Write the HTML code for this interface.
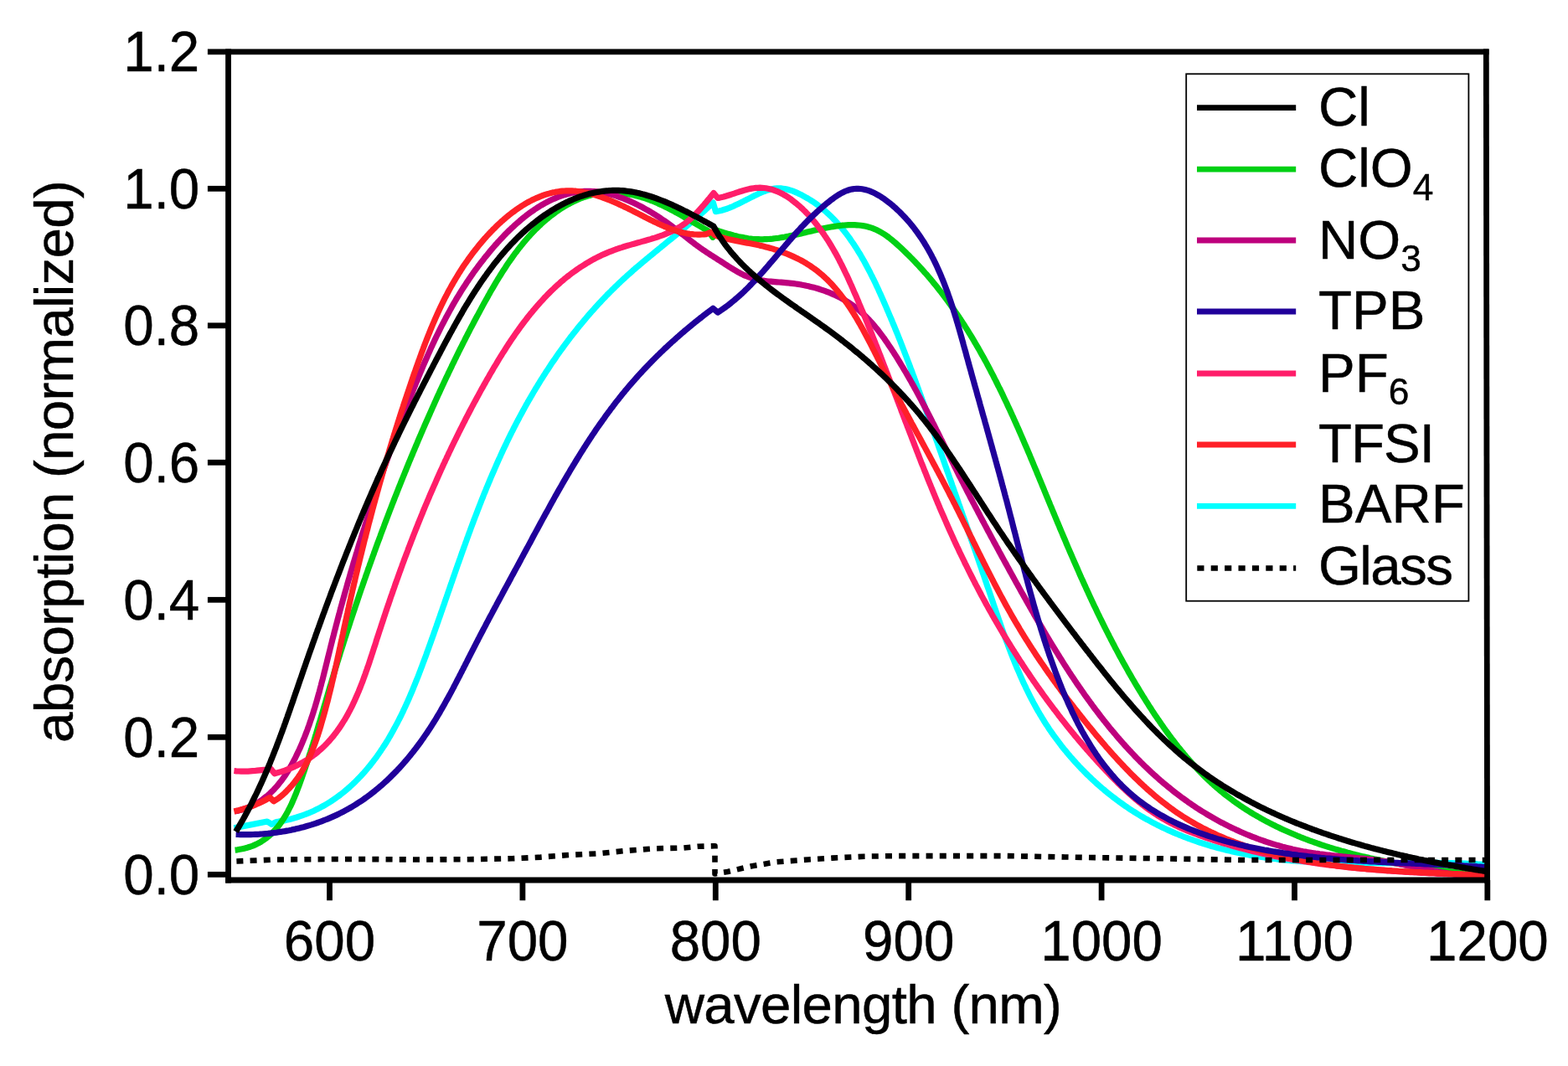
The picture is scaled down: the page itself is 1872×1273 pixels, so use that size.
<!DOCTYPE html>
<html><head><meta charset="utf-8"><title>absorption spectra</title>
<style>html,body{margin:0;padding:0;background:#fff;}body{width:1872px;height:1273px;overflow:hidden;}svg{display:block;}</style>
</head><body>
<svg width="1872" height="1273" viewBox="0 0 1872 1273">
<rect x="0" y="0" width="1872" height="1273" fill="#ffffff"/>
<g fill="none" stroke-linejoin="round" stroke-linecap="butt" stroke-width="7.2">
<path d="M279.4,988.7 L297.0,985.4 L319.0,981.0 L324.5,984.3 L330.0,981.5 L332.7,981.1 L335.4,980.6 L338.0,980.1 L340.6,979.6 L343.2,979.0 L345.8,978.4 L348.4,977.7 L350.9,977.0 L353.4,976.3 L355.9,975.5 L358.3,974.7 L360.7,973.9 L363.1,973.0 L365.5,972.1 L367.9,971.2 L370.2,970.2 L372.5,969.2 L374.8,968.2 L377.1,967.1 L379.3,966.0 L381.5,964.9 L383.7,963.7 L385.9,962.5 L388.0,961.3 L390.2,960.0 L392.3,958.7 L394.3,957.4 L396.4,956.1 L398.4,954.7 L400.5,953.3 L402.4,951.9 L404.4,950.5 L406.4,949.0 L408.3,947.5 L410.2,946.0 L412.1,944.4 L414.0,942.9 L415.8,941.3 L417.6,939.7 L419.4,938.0 L421.2,936.4 L423.0,934.7 L424.7,933.0 L426.4,931.3 L428.1,929.5 L429.8,927.8 L431.5,926.0 L433.1,924.2 L434.8,922.4 L436.4,920.5 L437.9,918.7 L439.5,916.8 L441.1,914.9 L442.6,913.0 L444.1,911.1 L445.6,909.2 L447.1,907.2 L448.5,905.3 L450.0,903.3 L451.4,901.3 L452.8,899.3 L454.2,897.3 L455.5,895.2 L456.9,893.2 L458.2,891.1 L459.6,889.1 L460.9,887.0 L462.2,884.9 L463.5,882.8 L464.7,880.6 L466.0,878.5 L467.2,876.3 L468.4,874.2 L469.6,872.0 L470.8,869.8 L472.0,867.6 L473.2,865.4 L474.4,863.2 L475.5,861.0 L476.6,858.8 L477.8,856.5 L478.9,854.3 L480.0,852.0 L481.1,849.8 L482.1,847.5 L483.2,845.2 L484.3,842.9 L485.3,840.6 L486.4,838.3 L487.4,836.0 L488.4,833.7 L489.4,831.4 L490.4,829.0 L491.4,826.7 L492.4,824.3 L493.4,822.0 L494.3,819.6 L495.3,817.3 L496.2,814.9 L497.2,812.5 L498.1,810.2 L499.1,807.8 L500.0,805.4 L500.9,803.0 L501.8,800.7 L502.7,798.3 L503.6,795.9 L504.5,793.5 L505.4,791.1 L506.3,788.7 L507.2,786.3 L508.1,783.9 L509.0,781.5 L509.8,779.1 L510.7,776.7 L511.6,774.3 L512.4,771.9 L513.3,769.5 L514.2,767.1 L515.0,764.7 L515.9,762.3 L516.7,759.9 L517.6,757.5 L518.4,755.1 L519.3,752.7 L520.1,750.3 L521.0,747.9 L521.8,745.5 L522.7,743.1 L523.5,740.7 L524.3,738.3 L525.2,735.9 L526.0,733.5 L526.8,731.1 L527.7,728.7 L528.5,726.3 L529.3,723.9 L530.2,721.5 L531.0,719.1 L531.8,716.7 L532.7,714.3 L533.5,711.9 L534.3,709.6 L535.1,707.2 L536.0,704.8 L536.8,702.4 L537.6,700.0 L538.4,697.6 L539.3,695.2 L540.1,692.9 L540.9,690.5 L541.8,688.1 L542.6,685.7 L543.4,683.3 L544.2,681.0 L545.1,678.6 L545.9,676.2 L546.7,673.8 L547.6,671.5 L548.4,669.1 L549.3,666.7 L550.1,664.3 L550.9,662.0 L551.8,659.6 L552.6,657.2 L553.5,654.9 L554.3,652.5 L555.2,650.2 L556.0,647.8 L556.9,645.4 L557.7,643.1 L558.6,640.7 L559.4,638.4 L560.3,636.0 L561.2,633.7 L562.0,631.3 L562.9,629.0 L563.8,626.6 L564.7,624.3 L565.5,621.9 L566.4,619.6 L567.3,617.3 L568.2,614.9 L569.1,612.6 L570.0,610.2 L570.9,607.9 L571.8,605.6 L572.7,603.3 L573.6,600.9 L574.5,598.6 L575.4,596.3 L576.4,594.0 L577.3,591.6 L578.2,589.3 L579.2,587.0 L580.1,584.7 L581.0,582.4 L582.0,580.1 L583.0,577.8 L583.9,575.5 L584.9,573.2 L585.8,570.9 L586.8,568.6 L587.8,566.3 L588.8,564.0 L589.8,561.7 L590.8,559.4 L591.8,557.1 L592.8,554.8 L593.8,552.5 L594.8,550.3 L595.8,548.0 L596.9,545.7 L597.9,543.4 L598.9,541.2 L600.0,538.9 L601.0,536.6 L602.1,534.4 L603.2,532.1 L604.3,529.9 L605.3,527.6 L606.4,525.4 L607.5,523.1 L608.6,520.9 L609.7,518.6 L610.8,516.4 L612.0,514.2 L613.1,511.9 L614.2,509.7 L615.4,507.5 L616.5,505.2 L617.7,503.0 L618.9,500.8 L620.0,498.6 L621.2,496.4 L622.4,494.2 L623.6,492.0 L624.8,489.8 L626.0,487.6 L627.2,485.4 L628.4,483.2 L629.7,481.0 L630.9,478.8 L632.2,476.7 L633.4,474.5 L634.7,472.3 L635.9,470.2 L637.2,468.0 L638.5,465.9 L639.8,463.7 L641.1,461.6 L642.4,459.4 L643.7,457.3 L645.0,455.2 L646.3,453.0 L647.7,450.9 L649.0,448.8 L650.4,446.7 L651.7,444.6 L653.1,442.5 L654.5,440.4 L655.9,438.3 L657.2,436.2 L658.6,434.1 L660.0,432.0 L661.5,430.0 L662.9,427.9 L664.3,425.8 L665.7,423.8 L667.2,421.7 L668.6,419.7 L670.1,417.7 L671.6,415.6 L673.0,413.6 L674.5,411.6 L676.0,409.6 L677.5,407.6 L679.0,405.6 L680.5,403.6 L682.1,401.6 L683.6,399.6 L685.1,397.7 L686.7,395.7 L688.3,393.7 L689.8,391.8 L691.4,389.8 L693.0,387.9 L694.6,386.0 L696.2,384.0 L697.8,382.1 L699.4,380.2 L701.0,378.3 L702.6,376.4 L704.3,374.5 L705.9,372.6 L707.6,370.8 L709.3,368.9 L710.9,367.0 L712.6,365.2 L714.3,363.3 L716.0,361.5 L717.7,359.7 L719.4,357.8 L721.2,356.0 L722.9,354.2 L724.6,352.4 L726.4,350.6 L728.2,348.9 L729.9,347.1 L731.7,345.3 L733.5,343.6 L735.3,341.8 L737.1,340.1 L738.9,338.3 L740.7,336.6 L742.6,334.9 L744.4,333.2 L746.3,331.5 L748.1,329.8 L750.0,328.1 L751.9,326.5 L753.8,324.8 L755.6,323.1 L757.5,321.5 L759.4,319.8 L761.3,318.2 L763.3,316.6 L765.2,314.9 L767.1,313.3 L769.0,311.7 L771.0,310.1 L772.9,308.5 L774.8,306.9 L776.8,305.3 L778.7,303.7 L780.7,302.1 L782.6,300.5 L784.6,298.9 L786.5,297.3 L788.5,295.7 L790.4,294.1 L792.4,292.5 L794.3,290.9 L796.3,289.3 L798.2,287.7 L800.2,286.2 L802.2,284.6 L804.1,283.0 L806.1,281.4 L808.0,279.8 L809.9,278.2 L811.9,276.6 L813.8,275.0 L815.8,273.4 L817.7,271.8 L819.6,270.2 L821.5,268.6 L823.5,267.0 L825.4,265.3 L827.3,263.7 L829.2,262.1 L831.1,260.4 L833.0,258.8 L834.8,257.2 L836.7,255.5 L838.6,253.8 L840.4,252.2 L842.3,250.5 L844.1,248.8 L846.0,247.1 L847.8,245.4 L849.6,243.7 L851.4,242.0 L854.5,252.7 L856.9,252.3 L859.3,251.8 L861.6,251.2 L864.0,250.5 L866.3,249.8 L868.7,249.0 L871.0,248.1 L873.3,247.2 L875.6,246.2 L877.9,245.1 L880.2,244.0 L882.5,242.9 L884.8,241.8 L887.1,240.6 L889.4,239.4 L891.7,238.3 L894.1,237.1 L896.4,235.9 L898.7,234.7 L901.1,233.5 L903.5,232.4 L905.8,231.3 L908.2,230.2 L910.6,229.2 L913.0,228.3 L915.4,227.4 L917.8,226.7 L920.2,226.0 L922.6,225.5 L925.1,225.1 L927.5,224.9 L929.9,224.8 L932.3,224.9 L934.7,225.2 L937.1,225.5 L939.5,226.0 L941.9,226.7 L944.2,227.4 L946.6,228.2 L948.9,229.1 L951.2,230.1 L953.5,231.2 L955.7,232.2 L957.9,233.4 L960.1,234.6 L962.3,235.8 L964.4,237.0 L966.5,238.3 L968.6,239.6 L970.7,240.9 L972.7,242.3 L974.7,243.7 L976.6,245.2 L978.6,246.6 L980.5,248.2 L982.4,249.7 L984.3,251.3 L986.1,252.9 L987.9,254.5 L989.7,256.1 L991.5,257.8 L993.2,259.5 L994.9,261.2 L996.6,263.0 L998.3,264.8 L999.9,266.6 L1001.6,268.4 L1003.2,270.3 L1004.8,272.2 L1006.3,274.1 L1007.9,276.0 L1009.4,277.9 L1010.9,279.9 L1012.4,281.9 L1013.9,283.9 L1015.3,285.9 L1016.7,288.0 L1018.1,290.0 L1019.5,292.1 L1020.9,294.2 L1022.3,296.3 L1023.6,298.4 L1024.9,300.6 L1026.3,302.8 L1027.6,304.9 L1028.8,307.1 L1030.1,309.3 L1031.4,311.5 L1032.6,313.7 L1033.8,316.0 L1035.0,318.2 L1036.2,320.5 L1037.4,322.7 L1038.6,325.0 L1039.7,327.3 L1040.9,329.6 L1042.0,331.9 L1043.2,334.2 L1044.3,336.5 L1045.4,338.8 L1046.5,341.2 L1047.6,343.5 L1048.7,345.8 L1049.7,348.2 L1050.8,350.5 L1051.8,352.8 L1052.9,355.2 L1053.9,357.5 L1055.0,359.9 L1056.0,362.2 L1057.0,364.6 L1058.0,366.9 L1059.0,369.2 L1060.0,371.6 L1061.0,373.9 L1062.0,376.3 L1063.0,378.6 L1064.0,381.0 L1065.0,383.3 L1065.9,385.6 L1066.9,388.0 L1067.9,390.3 L1068.8,392.6 L1069.8,395.0 L1070.7,397.3 L1071.7,399.6 L1072.6,402.0 L1073.5,404.3 L1074.5,406.6 L1075.4,409.0 L1076.3,411.3 L1077.2,413.6 L1078.1,416.0 L1079.0,418.3 L1079.9,420.6 L1080.8,423.0 L1081.7,425.3 L1082.6,427.6 L1083.5,430.0 L1084.4,432.3 L1085.3,434.6 L1086.2,437.0 L1087.0,439.3 L1087.9,441.6 L1088.8,443.9 L1089.6,446.3 L1090.5,448.6 L1091.4,450.9 L1092.2,453.3 L1093.1,455.6 L1093.9,457.9 L1094.8,460.3 L1095.6,462.6 L1096.5,464.9 L1097.3,467.3 L1098.2,469.6 L1099.0,471.9 L1099.9,474.2 L1100.7,476.6 L1101.5,478.9 L1102.4,481.2 L1103.2,483.6 L1104.0,485.9 L1104.9,488.2 L1105.7,490.6 L1106.5,492.9 L1107.3,495.3 L1108.2,497.6 L1109.0,499.9 L1109.8,502.3 L1110.6,504.6 L1111.5,506.9 L1112.3,509.3 L1113.1,511.6 L1113.9,514.0 L1114.7,516.3 L1115.6,518.6 L1116.4,521.0 L1117.2,523.3 L1118.0,525.7 L1118.9,528.0 L1119.7,530.4 L1120.5,532.7 L1121.3,535.1 L1122.1,537.4 L1123.0,539.8 L1123.8,542.1 L1124.6,544.5 L1125.4,546.8 L1126.3,549.2 L1127.1,551.5 L1127.9,553.9 L1128.7,556.3 L1129.6,558.6 L1130.4,561.0 L1131.2,563.3 L1132.1,565.7 L1132.9,568.1 L1133.7,570.4 L1134.6,572.8 L1135.4,575.2 L1136.2,577.5 L1137.0,579.9 L1137.9,582.3 L1138.7,584.6 L1139.5,587.0 L1140.4,589.4 L1141.2,591.7 L1142.0,594.1 L1142.9,596.5 L1143.7,598.8 L1144.5,601.2 L1145.4,603.6 L1146.2,606.0 L1147.0,608.3 L1147.9,610.7 L1148.7,613.1 L1149.5,615.5 L1150.4,617.8 L1151.2,620.2 L1152.0,622.6 L1152.9,625.0 L1153.7,627.3 L1154.5,629.7 L1155.4,632.1 L1156.2,634.5 L1157.0,636.9 L1157.9,639.2 L1158.7,641.6 L1159.5,644.0 L1160.3,646.4 L1161.2,648.8 L1162.0,651.1 L1162.8,653.5 L1163.7,655.9 L1164.5,658.3 L1165.3,660.7 L1166.1,663.0 L1167.0,665.4 L1167.8,667.8 L1168.6,670.2 L1169.4,672.6 L1170.3,675.0 L1171.1,677.3 L1171.9,679.7 L1172.7,682.1 L1173.5,684.5 L1174.4,686.9 L1175.2,689.3 L1176.0,691.6 L1176.8,694.0 L1177.6,696.4 L1178.4,698.8 L1179.2,701.2 L1180.1,703.6 L1180.9,705.9 L1181.7,708.3 L1182.5,710.7 L1183.3,713.1 L1184.1,715.5 L1184.9,717.8 L1185.7,720.2 L1186.5,722.6 L1187.3,725.0 L1188.1,727.4 L1189.0,729.7 L1189.8,732.1 L1190.6,734.5 L1191.4,736.8 L1192.2,739.2 L1193.0,741.6 L1193.9,743.9 L1194.7,746.3 L1195.5,748.7 L1196.3,751.0 L1197.2,753.4 L1198.0,755.7 L1198.9,758.1 L1199.7,760.4 L1200.6,762.8 L1201.4,765.1 L1202.3,767.5 L1203.2,769.8 L1204.0,772.1 L1204.9,774.5 L1205.8,776.8 L1206.7,779.1 L1207.6,781.5 L1208.5,783.8 L1209.4,786.1 L1210.4,788.4 L1211.3,790.7 L1212.2,793.0 L1213.2,795.3 L1214.1,797.6 L1215.1,799.9 L1216.1,802.1 L1217.1,804.4 L1218.1,806.7 L1219.1,809.0 L1220.1,811.2 L1221.1,813.5 L1222.1,815.7 L1223.2,818.0 L1224.3,820.2 L1225.3,822.5 L1226.4,824.7 L1227.5,826.9 L1228.6,829.1 L1229.7,831.3 L1230.8,833.5 L1232.0,835.7 L1233.1,837.9 L1234.3,840.1 L1235.5,842.3 L1236.7,844.5 L1237.9,846.6 L1239.1,848.8 L1240.4,850.9 L1241.6,853.1 L1242.9,855.2 L1244.2,857.3 L1245.5,859.4 L1246.8,861.6 L1248.1,863.7 L1249.5,865.8 L1250.9,867.8 L1252.2,869.9 L1253.6,872.0 L1255.1,874.1 L1256.5,876.1 L1257.9,878.2 L1259.4,880.2 L1260.9,882.2 L1262.4,884.2 L1263.9,886.2 L1265.4,888.2 L1266.9,890.2 L1268.5,892.2 L1270.1,894.2 L1271.7,896.1 L1273.3,898.1 L1274.9,900.0 L1276.5,901.9 L1278.1,903.8 L1279.8,905.7 L1281.5,907.6 L1283.2,909.5 L1284.9,911.4 L1286.6,913.2 L1288.3,915.1 L1290.0,916.9 L1291.8,918.7 L1293.6,920.5 L1295.3,922.3 L1297.1,924.1 L1298.9,925.9 L1300.8,927.6 L1302.6,929.4 L1304.4,931.1 L1306.3,932.8 L1308.1,934.5 L1310.0,936.2 L1311.9,937.9 L1313.8,939.6 L1315.7,941.2 L1317.7,942.8 L1319.6,944.5 L1321.5,946.1 L1323.5,947.6 L1325.5,949.2 L1327.5,950.8 L1329.4,952.3 L1331.5,953.8 L1333.5,955.4 L1335.5,956.8 L1337.5,958.3 L1339.6,959.8 L1341.6,961.2 L1343.7,962.7 L1345.8,964.1 L1347.8,965.5 L1349.9,966.9 L1352.0,968.2 L1354.2,969.6 L1356.3,970.9 L1358.4,972.2 L1360.5,973.5 L1362.7,974.8 L1364.8,976.0 L1367.0,977.3 L1369.2,978.5 L1371.4,979.7 L1373.6,980.9 L1375.8,982.1 L1378.0,983.2 L1380.2,984.4 L1382.4,985.5 L1384.6,986.6 L1386.9,987.7 L1389.1,988.8 L1391.4,989.8 L1393.6,990.9 L1395.9,991.9 L1398.2,992.9 L1400.4,993.9 L1402.7,994.9 L1405.0,995.8 L1407.3,996.8 L1409.6,997.7 L1412.0,998.7 L1414.3,999.6 L1416.6,1000.4 L1418.9,1001.3 L1421.3,1002.2 L1423.6,1003.0 L1426.0,1003.9 L1428.3,1004.7 L1430.7,1005.5 L1433.0,1006.3 L1435.4,1007.0 L1437.8,1007.8 L1440.2,1008.5 L1442.6,1009.2 L1444.9,1010.0 L1447.3,1010.7 L1449.7,1011.3 L1452.1,1012.0 L1454.6,1012.7 L1457.0,1013.3 L1459.4,1013.9 L1461.8,1014.6 L1464.2,1015.2 L1466.7,1015.8 L1469.1,1016.3 L1471.5,1016.9 L1474.0,1017.4 L1476.4,1018.0 L1478.9,1018.5 L1481.3,1019.0 L1483.8,1019.5 L1486.2,1020.0 L1488.7,1020.5 L1491.1,1020.9 L1493.6,1021.4 L1496.1,1021.8 L1498.5,1022.2 L1501.0,1022.6 L1503.5,1023.0 L1505.9,1023.4 L1508.4,1023.8 L1510.9,1024.1 L1513.4,1024.5 L1515.9,1024.8 L1518.3,1025.1 L1520.8,1025.5 L1523.3,1025.8 L1525.8,1026.1 L1528.3,1026.3 L1530.8,1026.6 L1533.3,1026.9 L1535.7,1027.1 L1538.2,1027.3 L1540.7,1027.6 L1543.2,1027.8 L1545.7,1028.0 L1548.2,1028.2 L1550.7,1028.4 L1553.2,1028.6 L1555.7,1028.7 L1558.2,1028.9 L1560.7,1029.0 L1563.2,1029.2 L1565.7,1029.3 L1568.2,1029.5 L1570.7,1029.6 L1573.2,1029.7 L1575.7,1029.8 L1578.2,1029.9 L1580.8,1030.0 L1583.3,1030.1 L1585.8,1030.2 L1588.3,1030.2 L1590.8,1030.3 L1593.3,1030.4 L1595.8,1030.4 L1598.3,1030.5 L1600.8,1030.5 L1603.4,1030.6 L1605.9,1030.6 L1608.4,1030.6 L1610.9,1030.7 L1613.4,1030.7 L1615.9,1030.7 L1618.4,1030.7 L1621.0,1030.7 L1623.5,1030.7 L1626.0,1030.7 L1628.5,1030.7 L1631.0,1030.7 L1633.5,1030.7 L1636.1,1030.7 L1638.6,1030.7 L1641.1,1030.7 L1643.6,1030.7 L1646.1,1030.7 L1648.7,1030.7 L1651.2,1030.7 L1653.7,1030.6 L1656.2,1030.6 L1658.7,1030.6 L1661.2,1030.6 L1663.8,1030.6 L1666.3,1030.5 L1668.8,1030.5 L1671.3,1030.5 L1673.8,1030.5 L1676.3,1030.5 L1678.9,1030.4 L1681.4,1030.4 L1683.9,1030.4 L1686.4,1030.4 L1688.9,1030.4 L1691.4,1030.4 L1694.0,1030.4 L1696.5,1030.4 L1699.0,1030.4 L1701.5,1030.4 L1704.0,1030.4 L1706.5,1030.4 L1709.0,1030.4 L1711.5,1030.4 L1714.0,1030.4 L1716.6,1030.4 L1719.1,1030.5 L1721.6,1030.5 L1724.1,1030.5 L1726.6,1030.6 L1729.1,1030.6 L1731.6,1030.7 L1734.1,1030.7 L1736.6,1030.8 L1739.1,1030.9 L1741.6,1030.9 L1744.1,1031.0 L1746.6,1031.1 L1749.1,1031.2 L1751.6,1031.3 L1754.1,1031.4 L1756.6,1031.5 L1759.1,1031.6 L1761.6,1031.7 L1764.0,1031.9 L1766.5,1032.0 L1769.0,1032.2 L1771.5,1032.3 L1774.0,1032.5" stroke="#00FFFF"/>
<path d="M280.6,1015.1 L283.5,1014.8 L286.3,1014.3 L289.0,1013.8 L291.6,1013.2 L294.2,1012.6 L296.7,1011.8 L299.2,1011.0 L301.6,1010.1 L303.9,1009.1 L306.1,1008.1 L308.3,1007.0 L310.5,1005.8 L312.5,1004.6 L314.5,1003.3 L316.5,1001.9 L318.4,1000.5 L320.3,999.0 L322.1,997.5 L323.8,995.9 L325.5,994.2 L327.1,992.5 L328.7,990.8 L330.3,989.0 L331.8,987.2 L333.3,985.3 L334.7,983.4 L336.1,981.4 L337.4,979.4 L338.8,977.4 L340.0,975.3 L341.3,973.2 L342.5,971.1 L343.7,968.9 L344.8,966.7 L345.9,964.5 L347.0,962.3 L348.1,960.0 L349.1,957.7 L350.1,955.4 L351.1,953.1 L352.1,950.7 L353.1,948.4 L354.0,946.0 L354.9,943.7 L355.8,941.3 L356.7,938.9 L357.6,936.5 L358.5,934.1 L359.3,931.7 L360.2,929.3 L361.0,926.9 L361.8,924.5 L362.7,922.1 L363.5,919.7 L364.3,917.3 L365.1,914.9 L365.9,912.5 L366.7,910.1 L367.5,907.7 L368.3,905.3 L369.0,902.9 L369.8,900.5 L370.6,898.1 L371.3,895.7 L372.1,893.3 L372.8,891.0 L373.6,888.6 L374.3,886.2 L375.1,883.8 L375.8,881.4 L376.5,879.0 L377.3,876.6 L378.0,874.2 L378.7,871.8 L379.4,869.4 L380.1,867.0 L380.8,864.6 L381.6,862.3 L382.3,859.9 L383.0,857.5 L383.7,855.1 L384.4,852.7 L385.1,850.3 L385.8,847.9 L386.5,845.5 L387.2,843.1 L387.9,840.8 L388.6,838.4 L389.3,836.0 L390.0,833.6 L390.7,831.2 L391.4,828.8 L392.1,826.4 L392.8,824.0 L393.5,821.6 L394.2,819.2 L395.0,816.9 L395.7,814.5 L396.4,812.1 L397.1,809.7 L397.8,807.3 L398.5,804.9 L399.3,802.5 L400.0,800.1 L400.7,797.7 L401.5,795.3 L402.2,793.0 L402.9,790.6 L403.7,788.2 L404.4,785.8 L405.2,783.4 L405.9,781.0 L406.6,778.6 L407.4,776.2 L408.2,773.8 L408.9,771.5 L409.7,769.1 L410.4,766.7 L411.2,764.3 L411.9,761.9 L412.7,759.5 L413.5,757.1 L414.3,754.7 L415.0,752.3 L415.8,750.0 L416.6,747.6 L417.4,745.2 L418.1,742.8 L418.9,740.4 L419.7,738.0 L420.5,735.6 L421.3,733.3 L422.1,730.9 L422.9,728.5 L423.7,726.1 L424.5,723.7 L425.3,721.3 L426.1,719.0 L426.9,716.6 L427.7,714.2 L428.5,711.8 L429.3,709.4 L430.1,707.1 L430.9,704.7 L431.7,702.3 L432.6,699.9 L433.4,697.5 L434.2,695.2 L435.0,692.8 L435.9,690.4 L436.7,688.0 L437.5,685.7 L438.4,683.3 L439.2,680.9 L440.0,678.5 L440.9,676.2 L441.7,673.8 L442.6,671.4 L443.4,669.1 L444.3,666.7 L445.1,664.3 L446.0,662.0 L446.8,659.6 L447.7,657.2 L448.5,654.9 L449.4,652.5 L450.3,650.1 L451.1,647.8 L452.0,645.4 L452.9,643.1 L453.8,640.7 L454.6,638.3 L455.5,636.0 L456.4,633.6 L457.3,631.3 L458.2,628.9 L459.0,626.6 L459.9,624.2 L460.8,621.9 L461.7,619.5 L462.6,617.2 L463.5,614.8 L464.4,612.5 L465.3,610.1 L466.2,607.8 L467.1,605.5 L468.0,603.1 L468.9,600.8 L469.8,598.4 L470.7,596.1 L471.6,593.8 L472.6,591.4 L473.5,589.1 L474.4,586.8 L475.3,584.4 L476.2,582.1 L477.2,579.8 L478.1,577.4 L479.0,575.1 L480.0,572.8 L480.9,570.5 L481.8,568.2 L482.8,565.8 L483.7,563.5 L484.7,561.2 L485.6,558.9 L486.5,556.6 L487.5,554.3 L488.4,551.9 L489.4,549.6 L490.4,547.3 L491.3,545.0 L492.3,542.7 L493.2,540.4 L494.2,538.1 L495.2,535.8 L496.1,533.5 L497.1,531.2 L498.1,528.9 L499.0,526.6 L500.0,524.3 L501.0,522.0 L502.0,519.8 L502.9,517.5 L503.9,515.2 L504.9,512.9 L505.9,510.6 L506.9,508.3 L507.9,506.1 L508.9,503.8 L509.9,501.5 L510.9,499.2 L511.9,497.0 L512.9,494.7 L513.9,492.4 L514.9,490.2 L515.9,487.9 L516.9,485.6 L517.9,483.4 L518.9,481.1 L520.0,478.8 L521.0,476.6 L522.0,474.3 L523.0,472.1 L524.1,469.8 L525.1,467.5 L526.1,465.3 L527.2,463.0 L528.2,460.8 L529.3,458.5 L530.3,456.3 L531.4,454.0 L532.4,451.8 L533.5,449.5 L534.6,447.3 L535.6,445.0 L536.7,442.8 L537.8,440.5 L538.9,438.3 L539.9,436.0 L541.0,433.8 L542.1,431.6 L543.2,429.3 L544.3,427.1 L545.4,424.8 L546.5,422.6 L547.6,420.3 L548.7,418.1 L549.8,415.9 L551.0,413.6 L552.1,411.4 L553.2,409.1 L554.4,406.9 L555.5,404.7 L556.6,402.4 L557.8,400.2 L558.9,397.9 L560.1,395.7 L561.2,393.5 L562.4,391.2 L563.6,389.0 L564.7,386.8 L565.9,384.5 L567.1,382.3 L568.3,380.0 L569.5,377.8 L570.7,375.6 L571.9,373.3 L573.1,371.1 L574.3,368.9 L575.5,366.6 L576.7,364.4 L578.0,362.1 L579.2,359.9 L580.4,357.7 L581.7,355.4 L582.9,353.2 L584.2,351.0 L585.4,348.7 L586.7,346.5 L588.0,344.3 L589.3,342.1 L590.6,339.9 L591.9,337.7 L593.2,335.5 L594.5,333.3 L595.9,331.1 L597.2,329.0 L598.6,326.8 L599.9,324.7 L601.3,322.5 L602.7,320.4 L604.1,318.2 L605.5,316.1 L606.9,314.0 L608.4,311.9 L609.8,309.9 L611.3,307.8 L612.8,305.7 L614.2,303.7 L615.7,301.7 L617.3,299.7 L618.8,297.7 L620.3,295.7 L621.9,293.7 L623.5,291.8 L625.1,289.8 L626.7,287.9 L628.3,286.0 L629.9,284.1 L631.6,282.3 L633.3,280.4 L634.9,278.6 L636.7,276.8 L638.4,275.0 L640.1,273.3 L641.9,271.6 L643.7,269.8 L645.5,268.2 L647.3,266.5 L649.1,264.8 L651.0,263.2 L652.9,261.6 L654.8,260.1 L656.7,258.5 L658.6,257.0 L660.6,255.5 L662.6,254.0 L664.6,252.6 L666.6,251.2 L668.7,249.8 L670.8,248.5 L672.8,247.2 L675.0,245.9 L677.1,244.7 L679.2,243.5 L681.4,242.3 L683.6,241.2 L685.8,240.1 L688.0,239.1 L690.2,238.2 L692.4,237.2 L694.7,236.4 L697.0,235.5 L699.3,234.8 L701.6,234.1 L703.9,233.4 L706.2,232.8 L708.5,232.3 L710.9,231.8 L713.2,231.4 L715.6,231.0 L718.0,230.7 L720.4,230.5 L722.7,230.3 L725.1,230.1 L727.5,230.1 L730.0,230.0 L732.4,230.0 L734.8,230.1 L737.2,230.3 L739.6,230.4 L742.1,230.7 L744.5,230.9 L746.9,231.3 L749.4,231.7 L751.8,232.1 L754.2,232.6 L756.6,233.1 L759.1,233.7 L761.5,234.3 L763.9,234.9 L766.3,235.7 L768.7,236.4 L771.1,237.2 L773.5,238.0 L775.9,238.9 L778.3,239.8 L780.7,240.8 L783.0,241.8 L785.4,242.8 L787.7,243.9 L790.1,244.9 L792.4,246.1 L794.7,247.2 L797.1,248.3 L799.4,249.5 L801.7,250.7 L803.9,251.9 L806.2,253.2 L808.5,254.4 L810.8,255.7 L813.0,256.9 L815.2,258.2 L817.5,259.5 L819.7,260.7 L821.9,262.0 L824.1,263.3 L826.3,264.6 L828.4,265.8 L830.6,267.1 L832.7,268.4 L834.9,269.6 L837.0,270.8 L839.1,272.1 L841.2,273.3 L843.2,274.4 L845.3,275.6 L851.0,283.3 L856.4,275.3 L858.9,276.1 L861.3,276.9 L863.8,277.7 L866.3,278.4 L868.7,279.1 L871.2,279.8 L873.7,280.5 L876.1,281.2 L878.6,281.8 L881.1,282.4 L883.5,282.9 L886.0,283.4 L888.5,283.9 L890.9,284.3 L893.4,284.7 L895.8,285.0 L898.3,285.3 L900.7,285.5 L903.1,285.6 L905.5,285.7 L908.0,285.8 L910.4,285.8 L912.8,285.7 L915.2,285.6 L917.6,285.5 L920.0,285.3 L922.4,285.1 L924.8,284.8 L927.2,284.5 L929.6,284.2 L932.0,283.8 L934.4,283.4 L936.8,283.0 L939.2,282.5 L941.6,282.1 L944.1,281.6 L946.5,281.1 L949.0,280.5 L951.4,280.0 L953.9,279.4 L956.3,278.9 L958.8,278.3 L961.3,277.7 L963.8,277.1 L966.3,276.5 L968.9,275.9 L971.4,275.3 L974.0,274.7 L976.5,274.1 L979.1,273.6 L981.7,273.0 L984.3,272.5 L986.9,272.0 L989.5,271.5 L992.1,271.0 L994.7,270.6 L997.4,270.2 L1000.0,269.8 L1002.6,269.5 L1005.1,269.2 L1007.7,269.0 L1010.3,268.8 L1012.9,268.7 L1015.4,268.6 L1017.9,268.6 L1020.4,268.7 L1022.9,268.8 L1025.4,269.0 L1027.9,269.3 L1030.3,269.6 L1032.7,270.0 L1035.0,270.6 L1037.4,271.2 L1039.7,271.9 L1041.9,272.7 L1044.2,273.6 L1046.4,274.5 L1048.5,275.6 L1050.7,276.7 L1052.8,278.0 L1054.9,279.3 L1056.9,280.6 L1059.0,282.0 L1061.0,283.5 L1062.9,285.0 L1064.9,286.6 L1066.8,288.2 L1068.7,289.8 L1070.6,291.5 L1072.5,293.2 L1074.4,294.9 L1076.3,296.7 L1078.1,298.4 L1079.9,300.1 L1081.7,301.9 L1083.5,303.7 L1085.3,305.4 L1087.1,307.2 L1088.9,309.0 L1090.6,310.8 L1092.4,312.6 L1094.1,314.5 L1095.8,316.3 L1097.5,318.1 L1099.2,320.0 L1100.9,321.8 L1102.6,323.7 L1104.2,325.6 L1105.9,327.4 L1107.5,329.3 L1109.1,331.2 L1110.8,333.1 L1112.4,335.0 L1114.0,337.0 L1115.5,338.9 L1117.1,340.8 L1118.7,342.8 L1120.2,344.7 L1121.8,346.7 L1123.3,348.6 L1124.8,350.6 L1126.3,352.6 L1127.8,354.6 L1129.3,356.6 L1130.8,358.6 L1132.3,360.6 L1133.7,362.6 L1135.2,364.6 L1136.6,366.6 L1138.1,368.7 L1139.5,370.7 L1140.9,372.8 L1142.3,374.8 L1143.7,376.9 L1145.1,378.9 L1146.5,381.0 L1147.8,383.1 L1149.2,385.2 L1150.6,387.3 L1151.9,389.3 L1153.2,391.5 L1154.6,393.6 L1155.9,395.7 L1157.2,397.8 L1158.5,399.9 L1159.8,402.0 L1161.1,404.2 L1162.4,406.3 L1163.6,408.5 L1164.9,410.6 L1166.2,412.8 L1167.4,414.9 L1168.7,417.1 L1169.9,419.3 L1171.1,421.5 L1172.3,423.6 L1173.6,425.8 L1174.8,428.0 L1176.0,430.2 L1177.2,432.4 L1178.4,434.6 L1179.5,436.8 L1180.7,439.0 L1181.9,441.2 L1183.0,443.5 L1184.2,445.7 L1185.4,447.9 L1186.5,450.1 L1187.6,452.4 L1188.8,454.6 L1189.9,456.9 L1191.0,459.1 L1192.1,461.4 L1193.3,463.6 L1194.4,465.9 L1195.5,468.1 L1196.6,470.4 L1197.7,472.7 L1198.7,474.9 L1199.8,477.2 L1200.9,479.5 L1202.0,481.8 L1203.0,484.1 L1204.1,486.3 L1205.2,488.6 L1206.2,490.9 L1207.3,493.2 L1208.3,495.5 L1209.4,497.8 L1210.4,500.1 L1211.4,502.4 L1212.5,504.7 L1213.5,507.0 L1214.5,509.3 L1215.6,511.6 L1216.6,514.0 L1217.6,516.3 L1218.6,518.6 L1219.6,520.9 L1220.6,523.2 L1221.6,525.5 L1222.6,527.9 L1223.6,530.2 L1224.6,532.5 L1225.6,534.8 L1226.6,537.2 L1227.6,539.5 L1228.6,541.8 L1229.6,544.2 L1230.5,546.5 L1231.5,548.8 L1232.5,551.2 L1233.5,553.5 L1234.4,555.8 L1235.4,558.2 L1236.4,560.5 L1237.4,562.8 L1238.3,565.2 L1239.3,567.5 L1240.3,569.9 L1241.2,572.2 L1242.2,574.5 L1243.2,576.9 L1244.1,579.2 L1245.1,581.5 L1246.1,583.9 L1247.0,586.2 L1248.0,588.6 L1248.9,590.9 L1249.9,593.2 L1250.9,595.6 L1251.8,597.9 L1252.8,600.2 L1253.7,602.6 L1254.7,604.9 L1255.7,607.2 L1256.6,609.5 L1257.6,611.9 L1258.6,614.2 L1259.5,616.5 L1260.5,618.9 L1261.5,621.2 L1262.4,623.5 L1263.4,625.8 L1264.4,628.1 L1265.3,630.5 L1266.3,632.8 L1267.3,635.1 L1268.3,637.4 L1269.2,639.7 L1270.2,642.0 L1271.2,644.3 L1272.2,646.7 L1273.1,649.0 L1274.1,651.3 L1275.1,653.6 L1276.1,655.9 L1277.1,658.2 L1278.1,660.5 L1279.1,662.8 L1280.1,665.1 L1281.1,667.4 L1282.1,669.7 L1283.1,671.9 L1284.1,674.2 L1285.1,676.5 L1286.1,678.8 L1287.1,681.1 L1288.1,683.4 L1289.1,685.7 L1290.1,687.9 L1291.1,690.2 L1292.2,692.5 L1293.2,694.8 L1294.2,697.1 L1295.3,699.3 L1296.3,701.6 L1297.3,703.9 L1298.4,706.1 L1299.4,708.4 L1300.5,710.7 L1301.5,712.9 L1302.6,715.2 L1303.6,717.4 L1304.7,719.7 L1305.7,721.9 L1306.8,724.2 L1307.9,726.4 L1309.0,728.7 L1310.0,730.9 L1311.1,733.2 L1312.2,735.4 L1313.3,737.7 L1314.4,739.9 L1315.5,742.1 L1316.6,744.4 L1317.7,746.6 L1318.8,748.8 L1319.9,751.0 L1321.1,753.3 L1322.2,755.5 L1323.3,757.7 L1324.4,759.9 L1325.6,762.1 L1326.7,764.3 L1327.9,766.6 L1329.0,768.8 L1330.2,771.0 L1331.3,773.2 L1332.5,775.4 L1333.7,777.6 L1334.9,779.8 L1336.0,782.0 L1337.2,784.2 L1338.4,786.3 L1339.6,788.5 L1340.8,790.7 L1342.0,792.9 L1343.3,795.1 L1344.5,797.2 L1345.7,799.4 L1346.9,801.6 L1348.2,803.8 L1349.4,805.9 L1350.7,808.1 L1351.9,810.3 L1353.2,812.4 L1354.5,814.6 L1355.7,816.7 L1357.0,818.9 L1358.3,821.0 L1359.6,823.2 L1360.9,825.3 L1362.2,827.4 L1363.5,829.6 L1364.8,831.7 L1366.2,833.8 L1367.5,836.0 L1368.8,838.1 L1370.2,840.2 L1371.5,842.3 L1372.9,844.5 L1374.3,846.6 L1375.6,848.7 L1377.0,850.8 L1378.4,852.9 L1379.8,855.0 L1381.2,857.1 L1382.6,859.2 L1384.1,861.2 L1385.5,863.3 L1386.9,865.4 L1388.4,867.4 L1389.8,869.5 L1391.3,871.6 L1392.8,873.6 L1394.2,875.6 L1395.7,877.7 L1397.2,879.7 L1398.7,881.7 L1400.3,883.7 L1401.8,885.7 L1403.3,887.7 L1404.9,889.7 L1406.4,891.7 L1408.0,893.6 L1409.6,895.6 L1411.2,897.5 L1412.8,899.4 L1414.4,901.4 L1416.0,903.3 L1417.6,905.2 L1419.3,907.1 L1420.9,909.0 L1422.6,910.8 L1424.3,912.7 L1426.0,914.5 L1427.7,916.4 L1429.4,918.2 L1431.1,920.0 L1432.8,921.8 L1434.6,923.6 L1436.3,925.4 L1438.1,927.1 L1439.9,928.9 L1441.7,930.6 L1443.5,932.3 L1445.3,934.0 L1447.2,935.7 L1449.0,937.4 L1450.9,939.0 L1452.8,940.7 L1454.7,942.3 L1456.6,943.9 L1458.5,945.5 L1460.4,947.1 L1462.3,948.6 L1464.3,950.2 L1466.3,951.7 L1468.3,953.2 L1470.3,954.7 L1472.3,956.2 L1474.3,957.6 L1476.3,959.1 L1478.4,960.5 L1480.4,961.9 L1482.5,963.3 L1484.6,964.7 L1486.7,966.1 L1488.8,967.4 L1490.9,968.7 L1493.1,970.1 L1495.2,971.4 L1497.3,972.7 L1499.5,973.9 L1501.7,975.2 L1503.9,976.4 L1506.0,977.7 L1508.2,978.9 L1510.5,980.1 L1512.7,981.3 L1514.9,982.4 L1517.1,983.6 L1519.4,984.7 L1521.6,985.8 L1523.9,987.0 L1526.2,988.1 L1528.4,989.1 L1530.7,990.2 L1533.0,991.3 L1535.3,992.3 L1537.6,993.3 L1539.9,994.3 L1542.2,995.3 L1544.6,996.3 L1546.9,997.3 L1549.2,998.3 L1551.6,999.2 L1553.9,1000.2 L1556.3,1001.1 L1558.6,1002.0 L1561.0,1002.9 L1563.4,1003.8 L1565.7,1004.6 L1568.1,1005.5 L1570.5,1006.3 L1572.9,1007.2 L1575.2,1008.0 L1577.6,1008.8 L1580.0,1009.6 L1582.4,1010.4 L1584.8,1011.1 L1587.2,1011.9 L1589.6,1012.6 L1592.0,1013.4 L1594.4,1014.1 L1596.8,1014.8 L1599.2,1015.5 L1601.6,1016.2 L1604.1,1016.8 L1606.5,1017.5 L1608.9,1018.2 L1611.3,1018.8 L1613.7,1019.4 L1616.1,1020.1 L1618.6,1020.7 L1621.0,1021.3 L1623.4,1021.9 L1625.8,1022.5 L1628.3,1023.0 L1630.7,1023.6 L1633.1,1024.1 L1635.6,1024.7 L1638.0,1025.2 L1640.4,1025.8 L1642.9,1026.3 L1645.3,1026.8 L1647.8,1027.3 L1650.2,1027.8 L1652.7,1028.3 L1655.1,1028.7 L1657.5,1029.2 L1660.0,1029.7 L1662.4,1030.1 L1664.9,1030.6 L1667.3,1031.0 L1669.8,1031.5 L1672.3,1031.9 L1674.7,1032.3 L1677.2,1032.7 L1679.6,1033.2 L1682.1,1033.6 L1684.6,1034.0 L1687.0,1034.4 L1689.5,1034.7 L1692.0,1035.1 L1694.4,1035.5 L1696.9,1035.9 L1699.4,1036.3 L1701.8,1036.6 L1704.3,1037.0 L1706.8,1037.3 L1709.3,1037.7 L1711.7,1038.0 L1714.2,1038.4 L1716.7,1038.7 L1719.2,1039.1 L1721.7,1039.4 L1724.1,1039.7 L1726.6,1040.1 L1729.1,1040.4 L1731.6,1040.7 L1734.1,1041.0 L1736.6,1041.4 L1739.1,1041.7 L1741.5,1042.0 L1744.0,1042.3 L1746.5,1042.6 L1749.0,1042.9 L1751.5,1043.2 L1754.0,1043.5 L1756.5,1043.9 L1759.0,1044.2 L1761.5,1044.5 L1764.0,1044.8 L1766.5,1045.1 L1769.0,1045.4 L1771.5,1045.7 L1774.0,1046.0" stroke="#00D014"/>
<path d="M280.0,969.0 L282.6,968.5 L285.2,967.9 L287.7,967.2 L290.1,966.5 L292.5,965.7 L294.9,964.8 L297.2,963.9 L299.5,962.9 L301.7,961.8 L303.9,960.7 L306.0,959.5 L308.1,958.3 L310.2,957.0 L312.2,955.6 L314.2,954.2 L316.1,952.7 L318.0,951.2 L319.8,949.7 L321.6,948.1 L323.4,946.4 L325.2,944.7 L326.9,943.0 L328.5,941.2 L330.2,939.3 L331.8,937.5 L333.3,935.6 L334.9,933.6 L336.4,931.7 L337.8,929.7 L339.3,927.6 L340.7,925.6 L342.0,923.5 L343.4,921.4 L344.7,919.2 L346.0,917.1 L347.3,914.9 L348.5,912.7 L349.7,910.5 L350.9,908.2 L352.1,906.0 L353.2,903.7 L354.3,901.4 L355.4,899.1 L356.5,896.8 L357.6,894.5 L358.6,892.2 L359.6,889.9 L360.6,887.6 L361.6,885.2 L362.5,882.9 L363.5,880.6 L364.4,878.2 L365.3,875.9 L366.2,873.5 L367.1,871.2 L367.9,868.8 L368.8,866.5 L369.6,864.1 L370.4,861.7 L371.2,859.4 L372.0,857.0 L372.8,854.6 L373.6,852.2 L374.3,849.9 L375.0,847.5 L375.8,845.1 L376.5,842.7 L377.2,840.3 L377.9,837.9 L378.6,835.5 L379.3,833.1 L379.9,830.7 L380.6,828.3 L381.3,825.9 L381.9,823.5 L382.5,821.1 L383.2,818.6 L383.8,816.2 L384.4,813.8 L385.1,811.4 L385.7,809.0 L386.3,806.6 L386.9,804.1 L387.5,801.7 L388.1,799.3 L388.7,796.9 L389.3,794.4 L389.9,792.0 L390.5,789.6 L391.1,787.2 L391.7,784.7 L392.3,782.3 L392.9,779.9 L393.5,777.5 L394.1,775.0 L394.7,772.6 L395.3,770.2 L395.9,767.8 L396.5,765.3 L397.1,762.9 L397.8,760.5 L398.4,758.1 L399.0,755.6 L399.6,753.2 L400.3,750.8 L400.9,748.4 L401.5,745.9 L402.2,743.5 L402.8,741.1 L403.4,738.7 L404.1,736.3 L404.7,733.8 L405.4,731.4 L406.0,729.0 L406.7,726.6 L407.3,724.2 L408.0,721.7 L408.7,719.3 L409.3,716.9 L410.0,714.5 L410.7,712.1 L411.3,709.7 L412.0,707.2 L412.7,704.8 L413.4,702.4 L414.1,700.0 L414.7,697.6 L415.4,695.2 L416.1,692.8 L416.8,690.4 L417.5,688.0 L418.2,685.5 L418.9,683.1 L419.6,680.7 L420.3,678.3 L421.0,675.9 L421.7,673.5 L422.4,671.1 L423.2,668.7 L423.9,666.3 L424.6,663.9 L425.3,661.5 L426.1,659.1 L426.8,656.7 L427.5,654.3 L428.2,651.9 L429.0,649.5 L429.7,647.1 L430.5,644.7 L431.2,642.3 L431.9,639.9 L432.7,637.5 L433.4,635.1 L434.2,632.7 L435.0,630.3 L435.7,627.9 L436.5,625.5 L437.2,623.1 L438.0,620.8 L438.8,618.4 L439.5,616.0 L440.3,613.6 L441.1,611.2 L441.9,608.8 L442.6,606.4 L443.4,604.0 L444.2,601.7 L445.0,599.3 L445.8,596.9 L446.6,594.5 L447.4,592.1 L448.2,589.8 L449.0,587.4 L449.8,585.0 L450.6,582.6 L451.4,580.3 L452.2,577.9 L453.0,575.5 L453.8,573.1 L454.6,570.8 L455.4,568.4 L456.2,566.0 L457.1,563.7 L457.9,561.3 L458.7,558.9 L459.5,556.6 L460.4,554.2 L461.2,551.8 L462.0,549.5 L462.9,547.1 L463.7,544.8 L464.6,542.4 L465.4,540.0 L466.3,537.7 L467.1,535.3 L468.0,533.0 L468.8,530.6 L469.7,528.3 L470.5,525.9 L471.4,523.6 L472.2,521.2 L473.1,518.9 L474.0,516.5 L474.8,514.2 L475.7,511.9 L476.6,509.5 L477.5,507.2 L478.3,504.8 L479.2,502.5 L480.1,500.2 L481.0,497.8 L481.9,495.5 L482.8,493.1 L483.7,490.8 L484.5,488.5 L485.4,486.2 L486.3,483.8 L487.2,481.5 L488.1,479.2 L489.0,476.8 L490.0,474.5 L490.9,472.2 L491.8,469.9 L492.7,467.6 L493.6,465.2 L494.5,462.9 L495.5,460.6 L496.4,458.3 L497.3,456.0 L498.3,453.7 L499.2,451.4 L500.1,449.1 L501.1,446.8 L502.0,444.5 L503.0,442.2 L504.0,439.9 L504.9,437.6 L505.9,435.3 L506.9,433.0 L507.9,430.7 L508.9,428.5 L509.9,426.2 L510.9,423.9 L511.9,421.6 L512.9,419.4 L513.9,417.1 L514.9,414.8 L516.0,412.6 L517.0,410.3 L518.1,408.1 L519.1,405.8 L520.2,403.6 L521.3,401.3 L522.4,399.1 L523.5,396.9 L524.6,394.6 L525.7,392.4 L526.8,390.2 L527.9,388.0 L529.1,385.8 L530.2,383.6 L531.4,381.3 L532.5,379.1 L533.7,377.0 L534.9,374.8 L536.1,372.6 L537.3,370.4 L538.5,368.2 L539.7,366.0 L540.9,363.9 L542.2,361.7 L543.5,359.5 L544.7,357.4 L546.0,355.2 L547.3,353.1 L548.6,351.0 L549.9,348.8 L551.2,346.7 L552.6,344.6 L553.9,342.5 L555.3,340.4 L556.7,338.2 L558.1,336.1 L559.5,334.1 L560.9,332.0 L562.3,329.9 L563.8,327.8 L565.2,325.7 L566.7,323.7 L568.2,321.6 L569.7,319.6 L571.2,317.5 L572.8,315.5 L574.3,313.4 L575.9,311.4 L577.5,309.4 L579.0,307.4 L580.7,305.4 L582.3,303.4 L583.9,301.4 L585.6,299.4 L587.3,297.4 L588.9,295.5 L590.6,293.5 L592.4,291.6 L594.1,289.6 L595.9,287.7 L597.6,285.8 L599.4,283.9 L601.2,282.0 L603.0,280.1 L604.8,278.3 L606.7,276.4 L608.5,274.6 L610.4,272.8 L612.3,271.1 L614.2,269.3 L616.1,267.6 L618.0,265.9 L620.0,264.2 L621.9,262.5 L623.9,260.9 L625.9,259.3 L627.9,257.7 L629.9,256.2 L631.9,254.7 L633.9,253.2 L636.0,251.8 L638.0,250.3 L640.1,249.0 L642.2,247.6 L644.3,246.3 L646.4,245.0 L648.5,243.8 L650.6,242.6 L652.8,241.5 L654.9,240.4 L657.1,239.3 L659.3,238.3 L661.5,237.3 L663.7,236.4 L665.9,235.5 L668.1,234.6 L670.3,233.8 L672.6,233.1 L674.8,232.4 L677.1,231.8 L679.3,231.2 L681.6,230.6 L683.9,230.1 L686.2,229.7 L688.5,229.3 L690.8,229.0 L693.1,228.8 L695.5,228.6 L697.8,228.4 L700.2,228.3 L702.5,228.3 L704.9,228.4 L707.3,228.5 L709.6,228.7 L712.0,228.9 L714.4,229.2 L716.8,229.5 L719.2,229.9 L721.6,230.4 L724.0,230.9 L726.5,231.4 L728.9,232.1 L731.3,232.7 L733.7,233.4 L736.1,234.2 L738.5,235.0 L740.9,235.8 L743.3,236.7 L745.7,237.6 L748.1,238.6 L750.5,239.6 L752.8,240.6 L755.2,241.7 L757.5,242.8 L759.9,243.9 L762.2,245.1 L764.5,246.3 L766.9,247.5 L769.2,248.8 L771.4,250.1 L773.7,251.3 L776.0,252.7 L778.2,254.0 L780.4,255.4 L782.6,256.7 L784.8,258.1 L787.0,259.5 L789.1,261.0 L791.2,262.4 L793.3,263.8 L795.4,265.3 L797.5,266.8 L799.5,268.2 L801.5,269.7 L803.5,271.2 L805.5,272.6 L807.4,274.1 L809.3,275.6 L811.2,277.1 L813.1,278.6 L815.0,280.0 L816.9,281.5 L818.8,283.0 L820.7,284.5 L822.6,285.9 L824.4,287.4 L826.3,288.9 L828.3,290.3 L830.2,291.8 L832.1,293.2 L834.1,294.6 L836.1,296.1 L838.1,297.5 L840.2,298.9 L842.2,300.3 L844.3,301.7 L846.4,303.0 L848.5,304.4 L850.7,305.8 L852.8,307.2 L855.0,308.5 L857.1,309.9 L859.3,311.3 L861.4,312.6 L863.6,314.0 L865.7,315.4 L867.8,316.8 L870.0,318.2 L872.1,319.5 L874.3,320.8 L876.4,322.2 L878.6,323.4 L880.7,324.7 L882.9,325.8 L885.1,327.0 L887.3,328.1 L889.5,329.1 L891.8,330.0 L894.0,330.9 L896.3,331.7 L898.6,332.4 L900.9,333.1 L903.3,333.7 L905.6,334.2 L908.0,334.6 L910.4,335.0 L912.9,335.4 L915.3,335.7 L917.7,336.0 L920.2,336.2 L922.7,336.4 L925.2,336.6 L927.7,336.8 L930.2,337.0 L932.7,337.2 L935.2,337.4 L937.7,337.6 L940.2,337.8 L942.7,338.1 L945.2,338.4 L947.8,338.7 L950.3,339.0 L952.8,339.4 L955.3,339.8 L957.8,340.3 L960.3,340.7 L962.8,341.3 L965.3,341.8 L967.7,342.4 L970.2,343.0 L972.7,343.6 L975.1,344.3 L977.5,345.0 L979.9,345.8 L982.3,346.6 L984.7,347.4 L987.1,348.3 L989.4,349.2 L991.7,350.1 L994.0,351.1 L996.3,352.1 L998.6,353.2 L1000.8,354.3 L1003.0,355.4 L1005.2,356.6 L1007.4,357.8 L1009.5,359.0 L1011.6,360.3 L1013.7,361.6 L1015.7,363.0 L1017.8,364.4 L1019.7,365.8 L1021.7,367.3 L1023.6,368.9 L1025.5,370.4 L1027.3,372.0 L1029.2,373.7 L1031.0,375.3 L1032.7,377.0 L1034.5,378.8 L1036.2,380.5 L1037.9,382.3 L1039.6,384.2 L1041.2,386.0 L1042.9,387.9 L1044.5,389.8 L1046.1,391.7 L1047.6,393.6 L1049.2,395.6 L1050.7,397.6 L1052.2,399.6 L1053.7,401.6 L1055.2,403.6 L1056.6,405.7 L1058.1,407.8 L1059.5,409.8 L1060.9,411.9 L1062.3,414.0 L1063.7,416.1 L1065.1,418.2 L1066.5,420.3 L1067.9,422.5 L1069.2,424.6 L1070.6,426.7 L1071.9,428.9 L1073.2,431.0 L1074.5,433.2 L1075.8,435.3 L1077.1,437.5 L1078.4,439.7 L1079.7,441.8 L1081.0,444.0 L1082.3,446.2 L1083.5,448.4 L1084.8,450.5 L1086.0,452.7 L1087.3,454.9 L1088.5,457.1 L1089.8,459.3 L1091.0,461.5 L1092.2,463.7 L1093.4,465.9 L1094.6,468.2 L1095.8,470.4 L1097.0,472.6 L1098.2,474.8 L1099.4,477.0 L1100.5,479.3 L1101.7,481.5 L1102.9,483.7 L1104.1,486.0 L1105.2,488.2 L1106.4,490.4 L1107.5,492.7 L1108.7,494.9 L1109.8,497.1 L1111.0,499.4 L1112.1,501.6 L1113.2,503.9 L1114.4,506.1 L1115.5,508.4 L1116.6,510.6 L1117.7,512.9 L1118.9,515.1 L1120.0,517.3 L1121.1,519.6 L1122.2,521.8 L1123.3,524.1 L1124.5,526.3 L1125.6,528.6 L1126.7,530.8 L1127.8,533.1 L1128.9,535.3 L1130.0,537.5 L1131.1,539.8 L1132.2,542.0 L1133.4,544.3 L1134.5,546.5 L1135.6,548.7 L1136.7,551.0 L1137.8,553.2 L1138.9,555.4 L1140.0,557.7 L1141.2,559.9 L1142.3,562.1 L1143.4,564.3 L1144.5,566.6 L1145.6,568.8 L1146.8,571.0 L1147.9,573.2 L1149.0,575.4 L1150.2,577.6 L1151.3,579.8 L1152.4,582.0 L1153.5,584.2 L1154.7,586.5 L1155.8,588.7 L1157.0,590.9 L1158.1,593.1 L1159.2,595.3 L1160.4,597.5 L1161.5,599.7 L1162.7,601.8 L1163.8,604.0 L1165.0,606.2 L1166.1,608.4 L1167.3,610.6 L1168.4,612.8 L1169.6,615.0 L1170.7,617.2 L1171.9,619.4 L1173.0,621.6 L1174.2,623.7 L1175.3,625.9 L1176.5,628.1 L1177.7,630.3 L1178.8,632.5 L1180.0,634.7 L1181.2,636.8 L1182.3,639.0 L1183.5,641.2 L1184.7,643.4 L1185.9,645.6 L1187.0,647.8 L1188.2,649.9 L1189.4,652.1 L1190.6,654.3 L1191.8,656.5 L1192.9,658.7 L1194.1,660.8 L1195.3,663.0 L1196.5,665.2 L1197.7,667.4 L1198.9,669.6 L1200.1,671.8 L1201.3,673.9 L1202.5,676.1 L1203.7,678.3 L1204.9,680.5 L1206.1,682.7 L1207.3,684.9 L1208.5,687.0 L1209.7,689.2 L1210.9,691.4 L1212.1,693.6 L1213.3,695.8 L1214.6,698.0 L1215.8,700.2 L1217.0,702.4 L1218.2,704.6 L1219.4,706.8 L1220.7,709.0 L1221.9,711.1 L1223.1,713.3 L1224.4,715.5 L1225.6,717.7 L1226.8,719.9 L1228.1,722.1 L1229.3,724.3 L1230.6,726.5 L1231.8,728.7 L1233.1,730.9 L1234.3,733.1 L1235.6,735.3 L1236.8,737.4 L1238.1,739.6 L1239.4,741.8 L1240.6,744.0 L1241.9,746.2 L1243.2,748.4 L1244.5,750.5 L1245.7,752.7 L1247.0,754.9 L1248.3,757.1 L1249.6,759.3 L1250.9,761.4 L1252.2,763.6 L1253.5,765.8 L1254.8,767.9 L1256.1,770.1 L1257.4,772.2 L1258.8,774.4 L1260.1,776.6 L1261.4,778.7 L1262.8,780.9 L1264.1,783.0 L1265.4,785.1 L1266.8,787.3 L1268.1,789.4 L1269.5,791.6 L1270.8,793.7 L1272.2,795.8 L1273.6,797.9 L1275.0,800.1 L1276.3,802.2 L1277.7,804.3 L1279.1,806.4 L1280.5,808.5 L1281.9,810.6 L1283.3,812.7 L1284.7,814.8 L1286.1,816.9 L1287.5,818.9 L1289.0,821.0 L1290.4,823.1 L1291.8,825.2 L1293.3,827.2 L1294.7,829.3 L1296.2,831.3 L1297.7,833.4 L1299.1,835.4 L1300.6,837.4 L1302.1,839.5 L1303.6,841.5 L1305.0,843.5 L1306.5,845.5 L1308.0,847.5 L1309.6,849.5 L1311.1,851.5 L1312.6,853.5 L1314.1,855.5 L1315.7,857.5 L1317.2,859.4 L1318.8,861.4 L1320.3,863.4 L1321.9,865.3 L1323.4,867.2 L1325.0,869.2 L1326.6,871.1 L1328.2,873.0 L1329.8,874.9 L1331.4,876.8 L1333.0,878.7 L1334.6,880.6 L1336.3,882.5 L1337.9,884.4 L1339.5,886.3 L1341.2,888.1 L1342.9,890.0 L1344.5,891.8 L1346.2,893.6 L1347.9,895.5 L1349.6,897.3 L1351.3,899.1 L1353.0,900.9 L1354.7,902.7 L1356.4,904.5 L1358.1,906.2 L1359.9,908.0 L1361.6,909.8 L1363.4,911.5 L1365.1,913.2 L1366.9,915.0 L1368.7,916.7 L1370.5,918.4 L1372.3,920.1 L1374.1,921.8 L1375.9,923.5 L1377.7,925.1 L1379.6,926.8 L1381.4,928.4 L1383.3,930.1 L1385.1,931.7 L1387.0,933.3 L1388.9,934.9 L1390.8,936.5 L1392.7,938.1 L1394.6,939.7 L1396.5,941.2 L1398.5,942.8 L1400.4,944.3 L1402.3,945.8 L1404.3,947.4 L1406.3,948.9 L1408.3,950.4 L1410.2,951.8 L1412.2,953.3 L1414.3,954.8 L1416.3,956.2 L1418.3,957.7 L1420.3,959.1 L1422.4,960.5 L1424.5,961.9 L1426.5,963.3 L1428.6,964.7 L1430.7,966.0 L1432.8,967.4 L1434.9,968.7 L1437.1,970.0 L1439.2,971.3 L1441.3,972.6 L1443.5,973.9 L1445.7,975.2 L1447.8,976.4 L1450.0,977.7 L1452.2,978.9 L1454.4,980.1 L1456.6,981.3 L1458.8,982.5 L1461.1,983.6 L1463.3,984.8 L1465.5,985.9 L1467.8,987.1 L1470.1,988.2 L1472.3,989.3 L1474.6,990.3 L1476.9,991.4 L1479.2,992.4 L1481.5,993.5 L1483.8,994.5 L1486.1,995.5 L1488.4,996.5 L1490.7,997.4 L1493.1,998.4 L1495.4,999.3 L1497.8,1000.2 L1500.1,1001.1 L1502.5,1002.0 L1504.8,1002.9 L1507.2,1003.7 L1509.6,1004.5 L1512.0,1005.3 L1514.4,1006.1 L1516.8,1006.9 L1519.2,1007.7 L1521.6,1008.4 L1524.0,1009.1 L1526.4,1009.8 L1528.8,1010.5 L1531.2,1011.2 L1533.7,1011.8 L1536.1,1012.4 L1538.5,1013.0 L1541.0,1013.6 L1543.4,1014.2 L1545.9,1014.7 L1548.3,1015.2 L1550.8,1015.7 L1553.2,1016.2 L1555.7,1016.7 L1558.1,1017.1 L1560.6,1017.6 L1563.1,1018.0 L1565.6,1018.4 L1568.0,1018.7 L1570.5,1019.1 L1573.0,1019.4 L1575.5,1019.8 L1578.0,1020.1 L1580.4,1020.4 L1582.9,1020.7 L1585.4,1021.0 L1587.9,1021.2 L1590.4,1021.5 L1592.9,1021.8 L1595.4,1022.0 L1597.9,1022.3 L1600.4,1022.5 L1602.9,1022.8 L1605.4,1023.0 L1607.9,1023.3 L1610.3,1023.5 L1612.8,1023.8 L1615.3,1024.0 L1617.8,1024.3 L1620.3,1024.5 L1622.8,1024.8 L1625.3,1025.0 L1627.8,1025.3 L1630.3,1025.6 L1632.8,1025.9 L1635.3,1026.2 L1637.8,1026.5 L1640.3,1026.8 L1642.7,1027.1 L1645.2,1027.4 L1647.7,1027.8 L1650.2,1028.2 L1652.7,1028.5 L1655.1,1028.9 L1657.6,1029.4 L1660.1,1029.8 L1662.5,1030.2 L1665.0,1030.7 L1667.5,1031.1 L1669.9,1031.6 L1672.4,1032.1 L1674.9,1032.5 L1677.3,1033.0 L1679.8,1033.5 L1682.2,1034.0 L1684.7,1034.5 L1687.2,1035.0 L1689.6,1035.5 L1692.1,1036.0 L1694.5,1036.5 L1697.0,1037.0 L1699.5,1037.5 L1701.9,1038.0 L1704.4,1038.5 L1706.8,1039.0 L1709.3,1039.5 L1711.8,1040.0 L1714.2,1040.4 L1716.7,1040.9 L1719.2,1041.3 L1721.6,1041.8 L1724.1,1042.2 L1726.6,1042.6 L1729.0,1043.0 L1731.5,1043.4 L1734.0,1043.7 L1736.5,1044.1 L1738.9,1044.4 L1741.4,1044.7 L1743.9,1045.0 L1746.4,1045.2 L1748.9,1045.5 L1751.4,1045.7 L1753.9,1045.9 L1756.4,1046.1 L1758.9,1046.2 L1761.4,1046.3 L1763.9,1046.4 L1766.4,1046.5 L1768.9,1046.5 L1771.5,1046.5 L1774.0,1046.5" stroke="#BE007D"/>
<path d="M279.4,920.5 L282.2,920.8 L285.0,921.0 L287.8,921.1 L290.6,921.2 L293.3,921.2 L296.1,921.1 L298.8,920.9 L301.5,920.7 L304.2,920.5 L307.0,920.2 L309.7,919.9 L312.4,919.6 L315.1,919.3 L317.9,919.0 L320.6,918.6 L323.4,918.3 L327.8,923.8 L335.5,921.6 L338.1,920.8 L340.7,919.9 L343.2,918.9 L345.7,918.0 L348.2,916.9 L350.6,915.9 L352.9,914.8 L355.3,913.7 L357.5,912.5 L359.8,911.3 L362.0,910.1 L364.1,908.8 L366.3,907.5 L368.3,906.2 L370.4,904.8 L372.4,903.4 L374.3,901.9 L376.3,900.5 L378.2,898.9 L380.0,897.4 L381.8,895.8 L383.6,894.2 L385.4,892.6 L387.1,891.0 L388.8,889.3 L390.4,887.6 L392.1,885.8 L393.7,884.0 L395.2,882.2 L396.8,880.4 L398.3,878.6 L399.7,876.7 L401.2,874.8 L402.6,872.9 L404.0,870.9 L405.4,869.0 L406.7,867.0 L408.0,865.0 L409.3,862.9 L410.6,860.9 L411.9,858.8 L413.1,856.7 L414.3,854.6 L415.5,852.5 L416.6,850.3 L417.8,848.2 L418.9,846.0 L420.0,843.8 L421.1,841.6 L422.1,839.3 L423.2,837.1 L424.2,834.8 L425.2,832.5 L426.2,830.2 L427.2,827.9 L428.2,825.6 L429.1,823.3 L430.1,821.0 L431.0,818.6 L431.9,816.3 L432.8,813.9 L433.7,811.5 L434.6,809.1 L435.4,806.8 L436.3,804.4 L437.1,801.9 L438.0,799.5 L438.8,797.1 L439.7,794.7 L440.5,792.3 L441.3,789.8 L442.1,787.4 L442.9,785.0 L443.7,782.5 L444.5,780.1 L445.3,777.6 L446.1,775.2 L446.9,772.7 L447.7,770.3 L448.5,767.8 L449.2,765.4 L450.0,762.9 L450.8,760.5 L451.6,758.1 L452.4,755.6 L453.2,753.2 L454.0,750.8 L454.8,748.3 L455.6,745.9 L456.4,743.5 L457.2,741.1 L458.0,738.6 L458.8,736.2 L459.6,733.8 L460.4,731.4 L461.2,729.0 L462.0,726.6 L462.8,724.2 L463.7,721.8 L464.5,719.4 L465.3,717.0 L466.1,714.6 L466.9,712.2 L467.8,709.8 L468.6,707.5 L469.4,705.1 L470.3,702.7 L471.1,700.3 L471.9,697.9 L472.8,695.6 L473.6,693.2 L474.5,690.8 L475.3,688.5 L476.2,686.1 L477.0,683.7 L477.9,681.4 L478.7,679.0 L479.6,676.7 L480.4,674.3 L481.3,672.0 L482.2,669.6 L483.0,667.3 L483.9,664.9 L484.8,662.6 L485.7,660.3 L486.6,657.9 L487.4,655.6 L488.3,653.3 L489.2,650.9 L490.1,648.6 L491.0,646.3 L491.9,643.9 L492.8,641.6 L493.7,639.3 L494.6,637.0 L495.5,634.7 L496.4,632.4 L497.4,630.0 L498.3,627.7 L499.2,625.4 L500.1,623.1 L501.1,620.8 L502.0,618.5 L502.9,616.2 L503.9,613.9 L504.8,611.6 L505.7,609.3 L506.7,607.0 L507.6,604.7 L508.6,602.4 L509.6,600.1 L510.5,597.9 L511.5,595.6 L512.5,593.3 L513.4,591.0 L514.4,588.7 L515.4,586.5 L516.4,584.2 L517.4,581.9 L518.4,579.6 L519.4,577.4 L520.4,575.1 L521.4,572.8 L522.4,570.5 L523.4,568.3 L524.4,566.0 L525.4,563.8 L526.4,561.5 L527.5,559.2 L528.5,557.0 L529.5,554.7 L530.6,552.5 L531.6,550.2 L532.7,548.0 L533.7,545.7 L534.8,543.5 L535.8,541.2 L536.9,539.0 L538.0,536.7 L539.0,534.5 L540.1,532.2 L541.2,530.0 L542.3,527.7 L543.4,525.5 L544.5,523.3 L545.6,521.0 L546.7,518.8 L547.8,516.5 L548.9,514.3 L550.0,512.1 L551.2,509.8 L552.3,507.6 L553.4,505.4 L554.6,503.2 L555.7,500.9 L556.8,498.7 L558.0,496.5 L559.1,494.3 L560.3,492.0 L561.5,489.8 L562.6,487.6 L563.8,485.4 L565.0,483.1 L566.2,480.9 L567.4,478.7 L568.6,476.5 L569.8,474.3 L571.0,472.1 L572.2,469.8 L573.4,467.6 L574.6,465.4 L575.9,463.2 L577.1,461.0 L578.3,458.8 L579.6,456.6 L580.8,454.4 L582.1,452.2 L583.4,449.9 L584.6,447.7 L585.9,445.5 L587.2,443.3 L588.5,441.1 L589.7,438.9 L591.0,436.8 L592.4,434.6 L593.7,432.4 L595.0,430.2 L596.3,428.0 L597.6,425.9 L599.0,423.7 L600.3,421.5 L601.7,419.4 L603.1,417.2 L604.4,415.1 L605.8,413.0 L607.2,410.8 L608.6,408.7 L610.0,406.6 L611.4,404.5 L612.9,402.4 L614.3,400.3 L615.7,398.3 L617.2,396.2 L618.7,394.1 L620.1,392.1 L621.6,390.0 L623.1,388.0 L624.6,386.0 L626.1,384.0 L627.7,382.0 L629.2,380.0 L630.7,378.0 L632.3,376.1 L633.9,374.1 L635.5,372.2 L637.0,370.3 L638.7,368.4 L640.3,366.5 L641.9,364.6 L643.5,362.8 L645.2,360.9 L646.9,359.1 L648.5,357.3 L650.2,355.4 L651.9,353.7 L653.6,351.9 L655.4,350.1 L657.1,348.4 L658.9,346.7 L660.7,345.0 L662.4,343.3 L664.2,341.6 L666.0,340.0 L667.9,338.4 L669.7,336.7 L671.6,335.2 L673.4,333.6 L675.3,332.0 L677.2,330.5 L679.2,329.0 L681.1,327.5 L683.0,326.0 L685.0,324.6 L687.0,323.2 L689.0,321.8 L691.0,320.4 L693.0,319.0 L695.1,317.7 L697.1,316.4 L699.2,315.1 L701.3,313.8 L703.4,312.6 L705.5,311.4 L707.7,310.2 L709.8,309.0 L712.0,307.9 L714.2,306.8 L716.4,305.7 L718.7,304.6 L720.9,303.6 L723.2,302.6 L725.5,301.6 L727.8,300.7 L730.1,299.8 L732.5,298.9 L734.8,298.0 L737.2,297.2 L739.6,296.3 L742.0,295.6 L744.5,294.8 L746.9,294.0 L749.4,293.3 L751.9,292.6 L754.3,291.9 L756.8,291.2 L759.3,290.5 L761.8,289.8 L764.3,289.1 L766.7,288.4 L769.2,287.7 L771.7,287.0 L774.2,286.3 L776.6,285.6 L779.1,284.8 L781.5,284.1 L783.9,283.3 L786.3,282.5 L788.7,281.6 L791.1,280.8 L793.5,279.9 L795.8,278.9 L798.1,277.9 L800.4,276.9 L802.6,275.9 L804.8,274.8 L807.0,273.6 L809.2,272.4 L811.3,271.2 L813.4,269.9 L815.4,268.5 L817.4,267.1 L819.4,265.6 L821.3,264.0 L823.2,262.4 L825.1,260.8 L826.9,259.1 L828.7,257.3 L830.5,255.6 L832.2,253.7 L834.0,251.9 L835.7,250.0 L837.3,248.1 L839.0,246.2 L840.7,244.3 L842.3,242.4 L843.9,240.4 L845.6,238.4 L847.2,236.5 L848.8,234.5 L850.4,232.5 L852.0,230.6 L857.0,236.5 L859.3,236.1 L861.6,235.6 L864.0,235.0 L866.4,234.3 L868.9,233.5 L871.4,232.7 L874.0,231.9 L876.5,231.1 L879.1,230.2 L881.7,229.3 L884.3,228.5 L886.9,227.7 L889.5,226.9 L892.1,226.3 L894.6,225.6 L897.2,225.1 L899.8,224.7 L902.3,224.4 L904.8,224.3 L907.2,224.2 L909.7,224.3 L912.1,224.5 L914.5,224.8 L916.8,225.2 L919.1,225.7 L921.4,226.3 L923.7,227.0 L925.9,227.8 L928.1,228.7 L930.3,229.6 L932.5,230.7 L934.6,231.8 L936.7,233.0 L938.7,234.2 L940.8,235.5 L942.8,236.9 L944.8,238.3 L946.7,239.8 L948.6,241.3 L950.5,242.8 L952.4,244.4 L954.3,246.0 L956.1,247.7 L957.9,249.3 L959.6,251.0 L961.4,252.7 L963.1,254.5 L964.8,256.2 L966.4,258.0 L968.0,259.9 L969.7,261.7 L971.2,263.5 L972.8,265.4 L974.3,267.3 L975.9,269.2 L977.3,271.2 L978.8,273.1 L980.3,275.1 L981.7,277.1 L983.1,279.1 L984.5,281.2 L985.9,283.2 L987.2,285.3 L988.6,287.3 L989.9,289.4 L991.2,291.6 L992.5,293.7 L993.7,295.8 L995.0,298.0 L996.2,300.1 L997.5,302.3 L998.7,304.5 L999.9,306.7 L1001.0,308.9 L1002.2,311.1 L1003.3,313.4 L1004.5,315.6 L1005.6,317.9 L1006.7,320.1 L1007.8,322.4 L1008.9,324.7 L1010.0,327.0 L1011.1,329.2 L1012.2,331.5 L1013.2,333.8 L1014.3,336.2 L1015.3,338.5 L1016.4,340.8 L1017.4,343.1 L1018.4,345.4 L1019.4,347.8 L1020.4,350.1 L1021.5,352.4 L1022.5,354.7 L1023.5,357.1 L1024.5,359.4 L1025.4,361.7 L1026.4,364.1 L1027.4,366.4 L1028.4,368.8 L1029.4,371.1 L1030.3,373.4 L1031.3,375.8 L1032.3,378.1 L1033.3,380.4 L1034.2,382.8 L1035.2,385.1 L1036.1,387.5 L1037.1,389.8 L1038.0,392.1 L1039.0,394.5 L1039.9,396.8 L1040.9,399.2 L1041.8,401.5 L1042.7,403.9 L1043.7,406.2 L1044.6,408.6 L1045.5,410.9 L1046.5,413.2 L1047.4,415.6 L1048.3,417.9 L1049.2,420.3 L1050.1,422.6 L1051.1,425.0 L1052.0,427.3 L1052.9,429.7 L1053.8,432.0 L1054.7,434.4 L1055.6,436.7 L1056.5,439.1 L1057.4,441.4 L1058.3,443.7 L1059.2,446.1 L1060.1,448.4 L1061.0,450.8 L1061.9,453.1 L1062.8,455.5 L1063.7,457.8 L1064.6,460.2 L1065.5,462.5 L1066.4,464.9 L1067.3,467.2 L1068.2,469.6 L1069.1,471.9 L1070.0,474.2 L1070.9,476.6 L1071.8,478.9 L1072.7,481.3 L1073.6,483.6 L1074.5,486.0 L1075.4,488.3 L1076.2,490.7 L1077.1,493.0 L1078.0,495.3 L1078.9,497.7 L1079.8,500.0 L1080.7,502.4 L1081.6,504.7 L1082.5,507.0 L1083.4,509.4 L1084.3,511.7 L1085.2,514.1 L1086.1,516.4 L1087.0,518.7 L1087.9,521.1 L1088.8,523.4 L1089.7,525.7 L1090.6,528.1 L1091.5,530.4 L1092.4,532.7 L1093.3,535.1 L1094.2,537.4 L1095.1,539.7 L1096.0,542.1 L1096.9,544.4 L1097.8,546.7 L1098.7,549.0 L1099.6,551.4 L1100.5,553.7 L1101.5,556.0 L1102.4,558.3 L1103.3,560.7 L1104.2,563.0 L1105.2,565.3 L1106.1,567.6 L1107.0,569.9 L1107.9,572.3 L1108.9,574.6 L1109.8,576.9 L1110.8,579.2 L1111.7,581.5 L1112.6,583.8 L1113.6,586.1 L1114.5,588.4 L1115.5,590.7 L1116.4,593.0 L1117.4,595.4 L1118.4,597.7 L1119.3,600.0 L1120.3,602.3 L1121.3,604.6 L1122.2,606.9 L1123.2,609.2 L1124.2,611.4 L1125.2,613.7 L1126.2,616.0 L1127.2,618.3 L1128.2,620.6 L1129.2,622.9 L1130.2,625.2 L1131.2,627.5 L1132.2,629.7 L1133.2,632.0 L1134.2,634.3 L1135.3,636.6 L1136.3,638.9 L1137.3,641.1 L1138.3,643.4 L1139.4,645.7 L1140.4,647.9 L1141.5,650.2 L1142.5,652.5 L1143.6,654.7 L1144.7,657.0 L1145.7,659.3 L1146.8,661.5 L1147.9,663.8 L1149.0,666.0 L1150.1,668.3 L1151.2,670.5 L1152.2,672.8 L1153.4,675.0 L1154.5,677.3 L1155.6,679.5 L1156.7,681.8 L1157.8,684.0 L1158.9,686.2 L1160.1,688.5 L1161.2,690.7 L1162.3,692.9 L1163.5,695.1 L1164.6,697.4 L1165.8,699.6 L1167.0,701.8 L1168.1,704.0 L1169.3,706.2 L1170.5,708.5 L1171.6,710.7 L1172.8,712.9 L1174.0,715.1 L1175.2,717.3 L1176.4,719.5 L1177.6,721.7 L1178.8,723.9 L1180.0,726.1 L1181.3,728.3 L1182.5,730.4 L1183.7,732.6 L1184.9,734.8 L1186.2,737.0 L1187.4,739.2 L1188.7,741.3 L1189.9,743.5 L1191.2,745.7 L1192.4,747.8 L1193.7,750.0 L1195.0,752.2 L1196.3,754.3 L1197.5,756.5 L1198.8,758.6 L1200.1,760.8 L1201.4,762.9 L1202.7,765.1 L1204.0,767.2 L1205.4,769.3 L1206.7,771.5 L1208.0,773.6 L1209.3,775.7 L1210.7,777.8 L1212.0,780.0 L1213.4,782.1 L1214.7,784.2 L1216.1,786.3 L1217.4,788.4 L1218.8,790.5 L1220.2,792.6 L1221.5,794.7 L1222.9,796.8 L1224.3,798.9 L1225.7,801.0 L1227.1,803.0 L1228.5,805.1 L1229.9,807.2 L1231.3,809.3 L1232.7,811.3 L1234.1,813.4 L1235.6,815.5 L1237.0,817.5 L1238.4,819.6 L1239.9,821.6 L1241.3,823.7 L1242.8,825.7 L1244.3,827.8 L1245.7,829.8 L1247.2,831.8 L1248.7,833.8 L1250.1,835.9 L1251.6,837.9 L1253.1,839.9 L1254.6,841.9 L1256.1,843.9 L1257.6,845.9 L1259.2,847.9 L1260.7,849.9 L1262.2,851.9 L1263.7,853.9 L1265.3,855.9 L1266.8,857.9 L1268.3,859.8 L1269.9,861.8 L1271.5,863.8 L1273.0,865.7 L1274.6,867.7 L1276.2,869.7 L1277.7,871.6 L1279.3,873.5 L1280.9,875.5 L1282.5,877.4 L1284.1,879.4 L1285.7,881.3 L1287.3,883.2 L1288.9,885.1 L1290.6,887.0 L1292.2,889.0 L1293.8,890.9 L1295.5,892.8 L1297.1,894.7 L1298.8,896.5 L1300.4,898.4 L1302.1,900.3 L1303.8,902.2 L1305.4,904.1 L1307.1,905.9 L1308.8,907.8 L1310.5,909.7 L1312.2,911.5 L1313.9,913.4 L1315.6,915.2 L1317.3,917.0 L1319.0,918.9 L1320.7,920.7 L1322.5,922.5 L1324.2,924.3 L1326.0,926.2 L1327.7,928.0 L1329.5,929.8 L1331.2,931.5 L1333.0,933.3 L1334.8,935.1 L1336.6,936.8 L1338.4,938.6 L1340.2,940.3 L1342.0,942.0 L1343.8,943.7 L1345.7,945.4 L1347.5,947.1 L1349.4,948.8 L1351.3,950.4 L1353.1,952.1 L1355.0,953.7 L1356.9,955.3 L1358.9,956.9 L1360.8,958.5 L1362.7,960.0 L1364.7,961.5 L1366.7,963.1 L1368.6,964.5 L1370.6,966.0 L1372.7,967.5 L1374.7,968.9 L1376.7,970.3 L1378.8,971.7 L1380.9,973.0 L1383.0,974.4 L1385.1,975.7 L1387.2,977.0 L1389.3,978.2 L1391.5,979.4 L1393.7,980.7 L1395.9,981.8 L1398.1,983.0 L1400.3,984.1 L1402.5,985.2 L1404.8,986.3 L1407.0,987.4 L1409.3,988.4 L1411.6,989.4 L1413.9,990.4 L1416.2,991.4 L1418.5,992.4 L1420.9,993.3 L1423.2,994.2 L1425.6,995.1 L1427.9,996.0 L1430.3,996.9 L1432.6,997.8 L1435.0,998.6 L1437.4,999.5 L1439.8,1000.3 L1442.2,1001.1 L1444.5,1001.9 L1446.9,1002.7 L1449.3,1003.5 L1451.7,1004.2 L1454.1,1005.0 L1456.5,1005.7 L1458.9,1006.5 L1461.3,1007.2 L1463.7,1007.9 L1466.1,1008.6 L1468.6,1009.3 L1471.0,1010.0 L1473.4,1010.7 L1475.8,1011.4 L1478.2,1012.0 L1480.7,1012.7 L1483.1,1013.3 L1485.5,1013.9 L1487.9,1014.6 L1490.4,1015.2 L1492.8,1015.8 L1495.2,1016.4 L1497.7,1017.0 L1500.1,1017.5 L1502.5,1018.1 L1505.0,1018.7 L1507.4,1019.2 L1509.9,1019.8 L1512.3,1020.3 L1514.8,1020.8 L1517.2,1021.4 L1519.7,1021.9 L1522.1,1022.4 L1524.6,1022.9 L1527.0,1023.4 L1529.5,1023.8 L1531.9,1024.3 L1534.4,1024.8 L1536.9,1025.2 L1539.3,1025.7 L1541.8,1026.1 L1544.3,1026.6 L1546.7,1027.0 L1549.2,1027.4 L1551.7,1027.8 L1554.1,1028.2 L1556.6,1028.6 L1559.1,1029.0 L1561.5,1029.4 L1564.0,1029.8 L1566.5,1030.2 L1569.0,1030.5 L1571.5,1030.9 L1573.9,1031.2 L1576.4,1031.6 L1578.9,1031.9 L1581.4,1032.3 L1583.9,1032.6 L1586.4,1032.9 L1588.9,1033.2 L1591.3,1033.5 L1593.8,1033.8 L1596.3,1034.1 L1598.8,1034.4 L1601.3,1034.7 L1603.8,1035.0 L1606.3,1035.3 L1608.8,1035.6 L1611.3,1035.8 L1613.8,1036.1 L1616.3,1036.3 L1618.8,1036.6 L1621.3,1036.8 L1623.8,1037.1 L1626.3,1037.3 L1628.8,1037.5 L1631.3,1037.8 L1633.8,1038.0 L1636.3,1038.2 L1638.8,1038.4 L1641.3,1038.6 L1643.8,1038.8 L1646.3,1039.0 L1648.8,1039.2 L1651.3,1039.4 L1653.8,1039.6 L1656.3,1039.8 L1658.8,1040.0 L1661.3,1040.2 L1663.8,1040.3 L1666.3,1040.5 L1668.8,1040.7 L1671.3,1040.8 L1673.8,1041.0 L1676.3,1041.1 L1678.8,1041.3 L1681.4,1041.4 L1683.9,1041.6 L1686.4,1041.7 L1688.9,1041.9 L1691.4,1042.0 L1693.9,1042.2 L1696.4,1042.3 L1698.9,1042.4 L1701.4,1042.5 L1703.9,1042.7 L1706.4,1042.8 L1708.9,1042.9 L1711.4,1043.0 L1713.9,1043.1 L1716.5,1043.3 L1719.0,1043.4 L1721.5,1043.5 L1724.0,1043.6 L1726.5,1043.7 L1729.0,1043.8 L1731.5,1043.9 L1734.0,1044.0 L1736.5,1044.1 L1739.0,1044.2 L1741.5,1044.3 L1744.0,1044.4 L1746.5,1044.5 L1749.0,1044.6 L1751.5,1044.7 L1754.0,1044.8 L1756.5,1044.9 L1759.0,1045.0 L1761.5,1045.1 L1764.0,1045.1 L1766.5,1045.2 L1769.0,1045.3 L1771.5,1045.4 L1774.0,1045.5" stroke="#FF1E6A"/>
<path d="M279.4,968.9 L282.1,968.3 L284.7,967.7 L287.4,967.0 L290.0,966.3 L292.6,965.5 L295.1,964.7 L297.7,963.8 L300.2,962.8 L302.8,961.8 L305.3,960.8 L307.7,959.7 L310.2,958.6 L312.7,957.5 L315.1,956.3 L317.5,955.0 L319.9,953.7 L322.3,952.4 L326.7,956.8 L332.2,953.5 L334.2,951.9 L336.2,950.3 L338.1,948.6 L340.0,946.9 L341.8,945.1 L343.5,943.3 L345.3,941.5 L346.9,939.7 L348.6,937.8 L350.2,935.9 L351.7,934.0 L353.2,932.0 L354.6,930.1 L356.1,928.1 L357.4,926.0 L358.8,924.0 L360.1,921.9 L361.3,919.8 L362.6,917.6 L363.8,915.5 L364.9,913.3 L366.1,911.1 L367.2,908.9 L368.2,906.7 L369.3,904.5 L370.3,902.2 L371.3,899.9 L372.3,897.6 L373.2,895.3 L374.1,893.0 L375.0,890.7 L375.9,888.3 L376.7,886.0 L377.6,883.6 L378.4,881.2 L379.2,878.9 L379.9,876.5 L380.7,874.1 L381.5,871.7 L382.2,869.3 L382.9,866.9 L383.6,864.4 L384.3,862.0 L385.0,859.6 L385.7,857.2 L386.4,854.8 L387.1,852.3 L387.7,849.9 L388.4,847.5 L389.0,845.1 L389.7,842.6 L390.3,840.2 L391.0,837.8 L391.6,835.3 L392.2,832.9 L392.8,830.5 L393.4,828.0 L394.0,825.6 L394.6,823.1 L395.2,820.7 L395.8,818.3 L396.3,815.8 L396.9,813.4 L397.5,810.9 L398.1,808.5 L398.6,806.0 L399.2,803.6 L399.7,801.1 L400.3,798.7 L400.8,796.3 L401.4,793.8 L401.9,791.4 L402.5,788.9 L403.0,786.5 L403.5,784.0 L404.1,781.6 L404.6,779.1 L405.1,776.6 L405.7,774.2 L406.2,771.7 L406.7,769.3 L407.2,766.8 L407.8,764.4 L408.3,761.9 L408.8,759.5 L409.4,757.0 L409.9,754.6 L410.4,752.1 L410.9,749.7 L411.5,747.2 L412.0,744.8 L412.5,742.3 L413.1,739.9 L413.6,737.4 L414.1,734.9 L414.7,732.5 L415.2,730.0 L415.7,727.6 L416.3,725.1 L416.8,722.7 L417.4,720.2 L417.9,717.8 L418.5,715.3 L419.0,712.9 L419.6,710.4 L420.2,708.0 L420.7,705.5 L421.3,703.1 L421.9,700.7 L422.4,698.2 L423.0,695.8 L423.6,693.3 L424.1,690.9 L424.7,688.4 L425.3,686.0 L425.9,683.5 L426.5,681.1 L427.0,678.6 L427.6,676.2 L428.2,673.8 L428.8,671.3 L429.4,668.9 L430.0,666.4 L430.6,664.0 L431.2,661.6 L431.8,659.1 L432.4,656.7 L433.0,654.2 L433.6,651.8 L434.2,649.4 L434.8,646.9 L435.4,644.5 L436.1,642.1 L436.7,639.6 L437.3,637.2 L437.9,634.8 L438.6,632.3 L439.2,629.9 L439.8,627.5 L440.4,625.0 L441.1,622.6 L441.7,620.2 L442.4,617.7 L443.0,615.3 L443.6,612.9 L444.3,610.5 L444.9,608.0 L445.6,605.6 L446.2,603.2 L446.9,600.8 L447.6,598.3 L448.2,595.9 L448.9,593.5 L449.6,591.1 L450.2,588.6 L450.9,586.2 L451.6,583.8 L452.2,581.4 L452.9,579.0 L453.6,576.6 L454.3,574.1 L455.0,571.7 L455.7,569.3 L456.3,566.9 L457.0,564.5 L457.7,562.1 L458.4,559.7 L459.1,557.3 L459.8,554.8 L460.5,552.4 L461.2,550.0 L461.9,547.6 L462.7,545.2 L463.4,542.8 L464.1,540.4 L464.8,538.0 L465.5,535.6 L466.3,533.2 L467.0,530.8 L467.7,528.4 L468.4,526.0 L469.2,523.6 L469.9,521.2 L470.6,518.8 L471.4,516.4 L472.1,514.1 L472.9,511.7 L473.6,509.3 L474.4,506.9 L475.1,504.5 L475.9,502.1 L476.7,499.7 L477.4,497.3 L478.2,495.0 L478.9,492.6 L479.7,490.2 L480.5,487.8 L481.3,485.4 L482.0,483.1 L482.8,480.7 L483.6,478.3 L484.4,475.9 L485.2,473.6 L486.0,471.2 L486.8,468.8 L487.6,466.5 L488.4,464.1 L489.2,461.7 L490.0,459.4 L490.8,457.0 L491.6,454.6 L492.4,452.3 L493.2,449.9 L494.0,447.5 L494.8,445.2 L495.7,442.8 L496.5,440.5 L497.3,438.1 L498.2,435.8 L499.0,433.4 L499.8,431.1 L500.7,428.7 L501.5,426.4 L502.4,424.0 L503.2,421.7 L504.1,419.4 L505.0,417.0 L505.8,414.7 L506.7,412.4 L507.6,410.0 L508.5,407.7 L509.4,405.4 L510.3,403.1 L511.2,400.7 L512.2,398.4 L513.1,396.1 L514.0,393.8 L515.0,391.5 L515.9,389.2 L516.9,386.9 L517.9,384.6 L518.9,382.3 L519.9,380.0 L520.9,377.8 L521.9,375.5 L522.9,373.2 L524.0,370.9 L525.0,368.7 L526.1,366.4 L527.2,364.2 L528.3,361.9 L529.4,359.7 L530.5,357.4 L531.6,355.2 L532.8,353.0 L533.9,350.8 L535.1,348.5 L536.3,346.3 L537.5,344.1 L538.7,341.9 L540.0,339.7 L541.2,337.5 L542.5,335.3 L543.8,333.2 L545.1,331.0 L546.4,328.8 L547.7,326.7 L549.1,324.5 L550.4,322.4 L551.8,320.2 L553.2,318.1 L554.6,316.0 L556.1,313.9 L557.6,311.8 L559.0,309.7 L560.5,307.6 L562.1,305.5 L563.6,303.4 L565.2,301.3 L566.8,299.3 L568.4,297.2 L570.0,295.2 L571.6,293.1 L573.3,291.1 L575.0,289.1 L576.7,287.1 L578.4,285.1 L580.2,283.2 L582.0,281.2 L583.7,279.3 L585.5,277.4 L587.4,275.5 L589.2,273.6 L591.1,271.8 L592.9,269.9 L594.8,268.1 L596.7,266.4 L598.6,264.6 L600.6,262.9 L602.5,261.2 L604.5,259.5 L606.5,257.9 L608.5,256.3 L610.5,254.7 L612.5,253.2 L614.6,251.7 L616.6,250.2 L618.7,248.8 L620.7,247.4 L622.8,246.0 L624.9,244.7 L627.1,243.4 L629.2,242.2 L631.3,241.0 L633.5,239.9 L635.6,238.8 L637.8,237.7 L640.0,236.7 L642.2,235.8 L644.4,234.9 L646.6,234.0 L648.8,233.2 L651.0,232.4 L653.3,231.7 L655.5,231.1 L657.8,230.5 L660.0,229.9 L662.3,229.5 L664.6,229.0 L666.9,228.7 L669.1,228.4 L671.4,228.1 L673.7,228.0 L676.0,227.8 L678.4,227.8 L680.7,227.8 L683.0,227.9 L685.3,228.0 L687.6,228.2 L690.0,228.5 L692.3,228.8 L694.7,229.1 L697.0,229.6 L699.3,230.0 L701.7,230.6 L704.0,231.1 L706.4,231.7 L708.8,232.4 L711.1,233.1 L713.5,233.8 L715.8,234.6 L718.2,235.4 L720.6,236.3 L722.9,237.2 L725.3,238.1 L727.6,239.0 L730.0,240.0 L732.4,241.0 L734.7,242.0 L737.1,243.1 L739.4,244.1 L741.8,245.2 L744.2,246.3 L746.5,247.5 L748.9,248.6 L751.2,249.7 L753.6,250.9 L755.9,252.1 L758.2,253.3 L760.6,254.4 L762.9,255.6 L765.2,256.8 L767.6,258.0 L769.9,259.2 L772.2,260.4 L774.5,261.5 L776.8,262.7 L779.1,263.8 L781.4,265.0 L783.8,266.1 L786.1,267.2 L788.4,268.2 L790.7,269.3 L793.0,270.3 L795.3,271.2 L797.7,272.2 L800.0,273.1 L802.3,273.9 L804.6,274.7 L807.0,275.5 L809.3,276.2 L811.7,276.9 L814.0,277.5 L816.4,278.1 L818.8,278.6 L821.2,279.0 L823.5,279.4 L825.9,279.6 L828.3,279.9 L830.8,280.0 L833.2,280.1 L835.6,280.1 L838.1,280.0 L840.5,279.9 L843.0,279.6 L849.5,277.0 L853.5,280.8 L855.8,281.7 L858.1,282.5 L860.4,283.2 L862.8,283.9 L865.1,284.6 L867.5,285.2 L869.9,285.8 L872.4,286.3 L874.8,286.8 L877.2,287.3 L879.7,287.8 L882.2,288.3 L884.7,288.7 L887.1,289.2 L889.6,289.6 L892.1,290.1 L894.6,290.5 L897.1,291.0 L899.6,291.5 L902.1,292.0 L904.6,292.5 L907.0,293.1 L909.5,293.6 L912.0,294.3 L914.4,294.9 L916.9,295.5 L919.3,296.2 L921.8,296.9 L924.2,297.7 L926.6,298.4 L929.0,299.2 L931.4,300.1 L933.8,300.9 L936.1,301.8 L938.4,302.7 L940.8,303.6 L943.1,304.6 L945.4,305.6 L947.6,306.6 L949.9,307.7 L952.1,308.8 L954.3,309.9 L956.5,311.0 L958.6,312.2 L960.7,313.4 L962.9,314.7 L964.9,316.0 L967.0,317.3 L969.0,318.7 L971.0,320.1 L973.0,321.5 L974.9,322.9 L976.8,324.4 L978.7,326.0 L980.5,327.5 L982.4,329.1 L984.1,330.7 L985.9,332.4 L987.7,334.0 L989.4,335.8 L991.1,337.5 L992.8,339.3 L994.4,341.0 L996.0,342.9 L997.6,344.7 L999.2,346.6 L1000.8,348.5 L1002.3,350.4 L1003.9,352.3 L1005.4,354.3 L1006.8,356.2 L1008.3,358.2 L1009.7,360.3 L1011.2,362.3 L1012.6,364.4 L1014.0,366.4 L1015.4,368.5 L1016.7,370.6 L1018.1,372.8 L1019.4,374.9 L1020.7,377.1 L1022.1,379.2 L1023.3,381.4 L1024.6,383.6 L1025.9,385.8 L1027.2,388.0 L1028.4,390.3 L1029.7,392.5 L1030.9,394.7 L1032.1,397.0 L1033.3,399.3 L1034.5,401.5 L1035.7,403.8 L1036.9,406.1 L1038.1,408.4 L1039.3,410.7 L1040.5,413.0 L1041.6,415.3 L1042.8,417.6 L1044.0,419.9 L1045.1,422.2 L1046.3,424.5 L1047.4,426.8 L1048.6,429.1 L1049.8,431.4 L1050.9,433.7 L1052.1,436.0 L1053.2,438.3 L1054.4,440.6 L1055.5,442.8 L1056.7,445.1 L1057.8,447.4 L1059.0,449.6 L1060.2,451.9 L1061.3,454.2 L1062.5,456.4 L1063.7,458.7 L1064.8,460.9 L1066.0,463.1 L1067.2,465.4 L1068.3,467.6 L1069.5,469.8 L1070.7,472.1 L1071.8,474.3 L1073.0,476.5 L1074.2,478.7 L1075.4,480.9 L1076.5,483.1 L1077.7,485.3 L1078.9,487.5 L1080.1,489.7 L1081.3,491.9 L1082.4,494.1 L1083.6,496.3 L1084.8,498.5 L1086.0,500.7 L1087.2,502.9 L1088.3,505.1 L1089.5,507.3 L1090.7,509.4 L1091.9,511.6 L1093.1,513.8 L1094.2,516.0 L1095.4,518.2 L1096.6,520.3 L1097.8,522.5 L1099.0,524.7 L1100.1,526.9 L1101.3,529.0 L1102.5,531.2 L1103.7,533.4 L1104.9,535.6 L1106.0,537.7 L1107.2,539.9 L1108.4,542.1 L1109.6,544.3 L1110.7,546.4 L1111.9,548.6 L1113.1,550.8 L1114.2,553.0 L1115.4,555.2 L1116.6,557.3 L1117.7,559.5 L1118.9,561.7 L1120.1,563.9 L1121.2,566.1 L1122.4,568.3 L1123.6,570.5 L1124.7,572.7 L1125.9,574.9 L1127.0,577.1 L1128.2,579.3 L1129.3,581.5 L1130.5,583.7 L1131.6,585.9 L1132.8,588.1 L1133.9,590.4 L1135.0,592.6 L1136.2,594.8 L1137.3,597.0 L1138.4,599.3 L1139.6,601.5 L1140.7,603.7 L1141.8,606.0 L1143.0,608.2 L1144.1,610.5 L1145.2,612.7 L1146.3,615.0 L1147.5,617.2 L1148.6,619.5 L1149.7,621.8 L1150.8,624.0 L1151.9,626.3 L1153.1,628.5 L1154.2,630.8 L1155.3,633.1 L1156.4,635.3 L1157.5,637.6 L1158.6,639.9 L1159.8,642.2 L1160.9,644.4 L1162.0,646.7 L1163.1,649.0 L1164.3,651.2 L1165.4,653.5 L1166.5,655.8 L1167.6,658.1 L1168.7,660.3 L1169.9,662.6 L1171.0,664.9 L1172.1,667.1 L1173.3,669.4 L1174.4,671.7 L1175.5,673.9 L1176.7,676.2 L1177.8,678.5 L1179.0,680.7 L1180.1,683.0 L1181.3,685.2 L1182.4,687.5 L1183.6,689.7 L1184.7,692.0 L1185.9,694.2 L1187.0,696.5 L1188.2,698.7 L1189.4,701.0 L1190.6,703.2 L1191.7,705.4 L1192.9,707.7 L1194.1,709.9 L1195.3,712.1 L1196.5,714.3 L1197.7,716.5 L1198.9,718.7 L1200.1,721.0 L1201.3,723.2 L1202.5,725.3 L1203.7,727.5 L1205.0,729.7 L1206.2,731.9 L1207.4,734.1 L1208.7,736.3 L1209.9,738.4 L1211.2,740.6 L1212.4,742.7 L1213.7,744.9 L1215.0,747.0 L1216.3,749.2 L1217.5,751.3 L1218.8,753.4 L1220.1,755.6 L1221.4,757.7 L1222.7,759.8 L1224.0,761.9 L1225.3,764.0 L1226.7,766.1 L1228.0,768.2 L1229.3,770.3 L1230.7,772.4 L1232.0,774.5 L1233.4,776.5 L1234.7,778.6 L1236.1,780.7 L1237.4,782.7 L1238.8,784.8 L1240.2,786.9 L1241.6,788.9 L1243.0,791.0 L1244.4,793.0 L1245.8,795.0 L1247.2,797.1 L1248.6,799.1 L1250.0,801.2 L1251.4,803.2 L1252.8,805.2 L1254.3,807.2 L1255.7,809.2 L1257.2,811.3 L1258.6,813.3 L1260.1,815.3 L1261.5,817.3 L1263.0,819.3 L1264.5,821.3 L1265.9,823.3 L1267.4,825.3 L1268.9,827.3 L1270.4,829.3 L1271.9,831.3 L1273.4,833.3 L1274.9,835.3 L1276.4,837.3 L1277.9,839.2 L1279.5,841.2 L1281.0,843.2 L1282.5,845.2 L1284.1,847.2 L1285.6,849.1 L1287.2,851.1 L1288.7,853.1 L1290.3,855.1 L1291.9,857.0 L1293.4,859.0 L1295.0,861.0 L1296.6,863.0 L1298.2,864.9 L1299.8,866.9 L1301.4,868.9 L1303.0,870.8 L1304.6,872.8 L1306.2,874.8 L1307.8,876.7 L1309.4,878.7 L1311.1,880.6 L1312.7,882.6 L1314.4,884.5 L1316.0,886.5 L1317.7,888.4 L1319.3,890.3 L1321.0,892.3 L1322.7,894.2 L1324.4,896.1 L1326.0,898.0 L1327.7,899.9 L1329.4,901.8 L1331.2,903.7 L1332.9,905.6 L1334.6,907.5 L1336.3,909.4 L1338.1,911.2 L1339.8,913.1 L1341.6,914.9 L1343.3,916.8 L1345.1,918.6 L1346.9,920.4 L1348.6,922.3 L1350.4,924.1 L1352.2,925.8 L1354.0,927.6 L1355.8,929.4 L1357.7,931.2 L1359.5,932.9 L1361.3,934.7 L1363.2,936.4 L1365.0,938.1 L1366.9,939.8 L1368.7,941.5 L1370.6,943.2 L1372.5,944.8 L1374.4,946.5 L1376.3,948.1 L1378.2,949.8 L1380.1,951.4 L1382.1,953.0 L1384.0,954.5 L1386.0,956.1 L1387.9,957.7 L1389.9,959.2 L1391.9,960.7 L1393.8,962.2 L1395.8,963.7 L1397.8,965.2 L1399.9,966.6 L1401.9,968.1 L1403.9,969.5 L1406.0,970.9 L1408.0,972.3 L1410.1,973.6 L1412.1,975.0 L1414.2,976.3 L1416.3,977.6 L1418.4,978.9 L1420.5,980.2 L1422.7,981.4 L1424.8,982.6 L1426.9,983.9 L1429.1,985.1 L1431.2,986.2 L1433.4,987.4 L1435.6,988.6 L1437.8,989.7 L1440.0,990.8 L1442.2,991.9 L1444.4,993.0 L1446.6,994.1 L1448.8,995.1 L1451.1,996.1 L1453.3,997.2 L1455.5,998.2 L1457.8,999.1 L1460.1,1000.1 L1462.3,1001.1 L1464.6,1002.0 L1466.9,1002.9 L1469.2,1003.8 L1471.5,1004.7 L1473.8,1005.6 L1476.2,1006.5 L1478.5,1007.3 L1480.8,1008.2 L1483.1,1009.0 L1485.5,1009.8 L1487.8,1010.6 L1490.2,1011.4 L1492.6,1012.1 L1494.9,1012.9 L1497.3,1013.6 L1499.7,1014.4 L1502.1,1015.1 L1504.5,1015.8 L1506.9,1016.5 L1509.3,1017.1 L1511.7,1017.8 L1514.1,1018.4 L1516.5,1019.1 L1518.9,1019.7 L1521.4,1020.3 L1523.8,1020.9 L1526.2,1021.5 L1528.7,1022.1 L1531.1,1022.7 L1533.6,1023.2 L1536.1,1023.8 L1538.5,1024.3 L1541.0,1024.8 L1543.5,1025.3 L1545.9,1025.8 L1548.4,1026.3 L1550.9,1026.8 L1553.4,1027.3 L1555.9,1027.7 L1558.4,1028.2 L1560.9,1028.6 L1563.4,1029.1 L1565.9,1029.5 L1568.4,1029.9 L1570.9,1030.3 L1573.4,1030.7 L1575.9,1031.1 L1578.4,1031.5 L1580.9,1031.8 L1583.4,1032.2 L1586.0,1032.5 L1588.5,1032.9 L1591.0,1033.2 L1593.6,1033.5 L1596.1,1033.9 L1598.6,1034.2 L1601.2,1034.5 L1603.7,1034.8 L1606.2,1035.1 L1608.8,1035.4 L1611.3,1035.6 L1613.8,1035.9 L1616.4,1036.2 L1618.9,1036.4 L1621.5,1036.7 L1624.0,1036.9 L1626.6,1037.1 L1629.1,1037.4 L1631.7,1037.6 L1634.2,1037.8 L1636.7,1038.0 L1639.3,1038.2 L1641.8,1038.4 L1644.4,1038.6 L1646.9,1038.8 L1649.5,1039.0 L1652.0,1039.2 L1654.6,1039.4 L1657.1,1039.6 L1659.7,1039.7 L1662.2,1039.9 L1664.7,1040.0 L1667.3,1040.2 L1669.8,1040.4 L1672.4,1040.5 L1674.9,1040.7 L1677.4,1040.8 L1680.0,1040.9 L1682.5,1041.1 L1685.0,1041.2 L1687.5,1041.3 L1690.1,1041.5 L1692.6,1041.6 L1695.1,1041.7 L1697.6,1041.8 L1700.2,1042.0 L1702.7,1042.1 L1705.2,1042.2 L1707.7,1042.3 L1710.2,1042.4 L1712.7,1042.5 L1715.2,1042.6 L1717.7,1042.7 L1720.2,1042.8 L1722.7,1042.9 L1725.2,1043.1 L1727.6,1043.2 L1730.1,1043.3 L1732.6,1043.4 L1735.1,1043.5 L1737.5,1043.6 L1740.0,1043.7 L1742.5,1043.8 L1744.9,1043.9 L1747.4,1044.0 L1749.8,1044.1 L1752.3,1044.2 L1754.7,1044.3 L1757.1,1044.4 L1759.5,1044.5 L1762.0,1044.6 L1764.4,1044.7 L1766.8,1044.8 L1769.2,1045.0 L1771.6,1045.1 L1774.0,1045.2" stroke="#FF2028"/>
<path d="M281.6,996.4 L284.2,996.5 L286.7,996.6 L289.3,996.6 L291.8,996.6 L294.4,996.6 L296.9,996.6 L299.5,996.6 L302.1,996.5 L304.6,996.4 L307.2,996.3 L309.7,996.2 L312.3,996.0 L314.8,995.8 L317.4,995.6 L319.9,995.4 L322.4,995.1 L325.0,994.8 L327.5,994.5 L330.0,994.2 L332.5,993.8 L335.0,993.4 L337.5,993.0 L340.0,992.6 L342.5,992.1 L345.0,991.7 L347.5,991.2 L350.0,990.6 L352.5,990.1 L354.9,989.5 L357.4,988.9 L359.8,988.3 L362.3,987.7 L364.7,987.0 L367.1,986.3 L369.5,985.6 L371.9,984.9 L374.3,984.1 L376.7,983.3 L379.1,982.5 L381.4,981.7 L383.8,980.8 L386.1,979.9 L388.4,979.0 L390.8,978.1 L393.1,977.1 L395.4,976.1 L397.6,975.1 L399.9,974.1 L402.1,973.1 L404.4,972.0 L406.6,970.9 L408.8,969.8 L411.0,968.6 L413.2,967.4 L415.4,966.3 L417.5,965.0 L419.6,963.8 L421.8,962.5 L423.9,961.2 L426.0,959.9 L428.0,958.6 L430.1,957.2 L432.1,955.9 L434.2,954.5 L436.2,953.0 L438.2,951.6 L440.2,950.1 L442.2,948.7 L444.1,947.2 L446.1,945.6 L448.0,944.1 L449.9,942.5 L451.8,940.9 L453.7,939.3 L455.6,937.7 L457.4,936.1 L459.3,934.4 L461.1,932.8 L462.9,931.1 L464.7,929.4 L466.5,927.6 L468.2,925.9 L470.0,924.1 L471.7,922.4 L473.5,920.6 L475.2,918.8 L476.9,917.0 L478.6,915.1 L480.2,913.3 L481.9,911.4 L483.5,909.5 L485.2,907.6 L486.8,905.7 L488.4,903.8 L490.0,901.9 L491.5,899.9 L493.1,898.0 L494.6,896.0 L496.2,894.0 L497.7,892.0 L499.2,890.0 L500.7,888.0 L502.2,886.0 L503.6,883.9 L505.1,881.9 L506.5,879.8 L507.9,877.8 L509.4,875.7 L510.8,873.6 L512.1,871.5 L513.5,869.4 L514.9,867.3 L516.2,865.2 L517.6,863.0 L518.9,860.9 L520.2,858.8 L521.5,856.6 L522.8,854.4 L524.1,852.3 L525.4,850.1 L526.6,847.9 L527.9,845.7 L529.1,843.5 L530.4,841.3 L531.6,839.1 L532.8,836.9 L534.1,834.7 L535.3,832.5 L536.5,830.3 L537.7,828.1 L538.9,825.8 L540.1,823.6 L541.3,821.4 L542.4,819.1 L543.6,816.9 L544.8,814.6 L545.9,812.4 L547.1,810.1 L548.3,807.9 L549.4,805.6 L550.6,803.4 L551.7,801.1 L552.9,798.9 L554.0,796.6 L555.2,794.4 L556.3,792.1 L557.5,789.9 L558.6,787.6 L559.7,785.4 L560.9,783.1 L562.0,780.9 L563.2,778.6 L564.3,776.4 L565.5,774.1 L566.6,771.9 L567.8,769.6 L568.9,767.4 L570.1,765.2 L571.2,762.9 L572.4,760.7 L573.5,758.5 L574.7,756.3 L575.9,754.0 L577.0,751.8 L578.2,749.6 L579.4,747.4 L580.5,745.2 L581.7,742.9 L582.9,740.7 L584.0,738.5 L585.2,736.3 L586.4,734.1 L587.6,731.9 L588.7,729.7 L589.9,727.5 L591.1,725.3 L592.3,723.1 L593.4,720.9 L594.6,718.7 L595.8,716.5 L597.0,714.3 L598.2,712.1 L599.4,709.9 L600.5,707.7 L601.7,705.5 L602.9,703.3 L604.1,701.1 L605.3,698.9 L606.5,696.7 L607.7,694.5 L608.9,692.3 L610.0,690.1 L611.2,687.9 L612.4,685.7 L613.6,683.5 L614.8,681.3 L616.0,679.1 L617.2,676.9 L618.4,674.7 L619.6,672.5 L620.8,670.3 L621.9,668.1 L623.1,665.9 L624.3,663.7 L625.5,661.4 L626.7,659.2 L627.9,657.0 L629.1,654.8 L630.3,652.6 L631.5,650.4 L632.7,648.2 L633.9,646.0 L635.0,643.8 L636.2,641.5 L637.4,639.3 L638.6,637.1 L639.8,634.9 L641.0,632.7 L642.2,630.5 L643.4,628.3 L644.6,626.0 L645.8,623.8 L647.0,621.6 L648.2,619.4 L649.4,617.2 L650.6,615.0 L651.8,612.8 L653.1,610.6 L654.3,608.4 L655.5,606.2 L656.7,603.9 L657.9,601.7 L659.1,599.5 L660.4,597.3 L661.6,595.1 L662.8,592.9 L664.1,590.7 L665.3,588.5 L666.5,586.4 L667.8,584.2 L669.0,582.0 L670.3,579.8 L671.5,577.6 L672.8,575.4 L674.1,573.2 L675.3,571.1 L676.6,568.9 L677.9,566.7 L679.2,564.6 L680.4,562.4 L681.7,560.2 L683.0,558.1 L684.3,555.9 L685.6,553.8 L686.9,551.6 L688.2,549.5 L689.5,547.3 L690.9,545.2 L692.2,543.0 L693.5,540.9 L694.8,538.8 L696.2,536.7 L697.5,534.5 L698.9,532.4 L700.2,530.3 L701.6,528.2 L703.0,526.1 L704.3,524.0 L705.7,521.9 L707.1,519.8 L708.5,517.8 L709.9,515.7 L711.3,513.6 L712.7,511.5 L714.1,509.5 L715.6,507.4 L717.0,505.4 L718.5,503.3 L719.9,501.3 L721.4,499.3 L722.8,497.2 L724.3,495.2 L725.8,493.2 L727.3,491.2 L728.7,489.2 L730.2,487.2 L731.8,485.2 L733.3,483.2 L734.8,481.2 L736.3,479.2 L737.9,477.3 L739.4,475.3 L741.0,473.4 L742.5,471.4 L744.1,469.5 L745.7,467.6 L747.3,465.6 L748.9,463.7 L750.5,461.8 L752.1,459.9 L753.8,458.0 L755.4,456.1 L757.0,454.3 L758.7,452.4 L760.4,450.5 L762.0,448.7 L763.7,446.8 L765.4,445.0 L767.1,443.1 L768.8,441.3 L770.5,439.5 L772.2,437.7 L774.0,435.9 L775.7,434.1 L777.5,432.3 L779.2,430.5 L781.0,428.7 L782.7,427.0 L784.5,425.2 L786.3,423.5 L788.1,421.7 L789.9,420.0 L791.7,418.3 L793.5,416.5 L795.4,414.8 L797.2,413.1 L799.0,411.4 L800.9,409.7 L802.7,408.0 L804.6,406.4 L806.5,404.7 L808.3,403.0 L810.2,401.4 L812.1,399.7 L814.0,398.1 L815.9,396.5 L817.8,394.8 L819.7,393.2 L821.7,391.6 L823.6,390.0 L825.5,388.4 L827.5,386.8 L829.4,385.2 L831.4,383.7 L833.3,382.1 L835.3,380.5 L837.3,379.0 L839.2,377.4 L841.2,375.9 L843.2,374.4 L845.2,372.8 L847.2,371.3 L849.2,369.8 L851.2,368.3 L856.9,373.1 L859.0,371.8 L861.0,370.4 L863.0,369.0 L865.1,367.6 L867.0,366.1 L869.0,364.7 L871.0,363.1 L872.9,361.6 L874.8,360.0 L876.7,358.5 L878.6,356.8 L880.5,355.2 L882.4,353.6 L884.2,351.9 L886.1,350.2 L887.9,348.5 L889.7,346.7 L891.5,345.0 L893.3,343.2 L895.0,341.4 L896.8,339.6 L898.5,337.8 L900.3,336.0 L902.0,334.1 L903.7,332.3 L905.4,330.4 L907.1,328.5 L908.8,326.7 L910.5,324.8 L912.2,322.9 L913.8,321.0 L915.5,319.1 L917.1,317.2 L918.8,315.2 L920.4,313.3 L922.1,311.4 L923.7,309.5 L925.3,307.6 L926.9,305.7 L928.5,303.8 L930.2,301.8 L931.8,299.9 L933.4,298.0 L935.0,296.1 L936.6,294.3 L938.2,292.4 L939.8,290.5 L941.4,288.7 L943.0,286.8 L944.6,285.0 L946.2,283.1 L947.8,281.3 L949.4,279.5 L951.0,277.7 L952.6,275.9 L954.3,274.1 L955.9,272.3 L957.6,270.5 L959.3,268.8 L961.0,267.0 L962.7,265.2 L964.5,263.4 L966.3,261.7 L968.1,259.9 L969.9,258.2 L971.7,256.4 L973.6,254.7 L975.5,252.9 L977.5,251.1 L979.5,249.4 L981.5,247.6 L983.6,245.8 L985.7,244.1 L987.8,242.3 L990.0,240.6 L992.2,238.8 L994.5,237.2 L996.7,235.5 L999.0,234.0 L1001.3,232.5 L1003.7,231.2 L1006.0,229.9 L1008.3,228.8 L1010.7,227.8 L1013.0,227.0 L1015.4,226.3 L1017.7,225.9 L1020.1,225.5 L1022.4,225.4 L1024.7,225.4 L1027.0,225.5 L1029.3,225.8 L1031.6,226.2 L1033.9,226.8 L1036.1,227.4 L1038.4,228.2 L1040.6,229.1 L1042.8,230.0 L1045.0,231.1 L1047.1,232.3 L1049.3,233.5 L1051.4,234.8 L1053.5,236.2 L1055.6,237.6 L1057.6,239.1 L1059.6,240.6 L1061.6,242.2 L1063.6,243.7 L1065.5,245.3 L1067.4,247.0 L1069.3,248.6 L1071.1,250.3 L1072.9,252.0 L1074.7,253.7 L1076.4,255.5 L1078.1,257.2 L1079.8,259.0 L1081.5,260.8 L1083.1,262.6 L1084.8,264.5 L1086.3,266.3 L1087.9,268.2 L1089.4,270.1 L1091.0,272.0 L1092.4,274.0 L1093.9,275.9 L1095.3,277.9 L1096.7,279.9 L1098.1,281.9 L1099.5,283.9 L1100.8,285.9 L1102.2,288.0 L1103.5,290.0 L1104.7,292.1 L1106.0,294.2 L1107.2,296.3 L1108.5,298.5 L1109.7,300.6 L1110.8,302.7 L1112.0,304.9 L1113.1,307.1 L1114.3,309.3 L1115.4,311.5 L1116.4,313.7 L1117.5,315.9 L1118.6,318.2 L1119.6,320.4 L1120.6,322.7 L1121.6,325.0 L1122.6,327.3 L1123.6,329.6 L1124.5,331.9 L1125.5,334.2 L1126.4,336.5 L1127.3,338.8 L1128.2,341.2 L1129.1,343.5 L1130.0,345.9 L1130.9,348.3 L1131.7,350.6 L1132.5,353.0 L1133.4,355.4 L1134.2,357.8 L1135.0,360.2 L1135.8,362.6 L1136.6,365.0 L1137.4,367.5 L1138.2,369.9 L1138.9,372.3 L1139.7,374.7 L1140.4,377.2 L1141.2,379.6 L1141.9,382.1 L1142.6,384.5 L1143.4,387.0 L1144.1,389.4 L1144.8,391.9 L1145.5,394.4 L1146.2,396.8 L1146.9,399.3 L1147.6,401.8 L1148.3,404.2 L1149.0,406.7 L1149.7,409.2 L1150.3,411.6 L1151.0,414.1 L1151.7,416.6 L1152.4,419.0 L1153.1,421.5 L1153.7,424.0 L1154.4,426.4 L1155.1,428.9 L1155.8,431.4 L1156.4,433.8 L1157.1,436.3 L1157.8,438.7 L1158.5,441.2 L1159.2,443.6 L1159.8,446.1 L1160.5,448.5 L1161.2,451.0 L1161.9,453.4 L1162.6,455.9 L1163.2,458.3 L1163.9,460.7 L1164.6,463.2 L1165.3,465.6 L1166.0,468.1 L1166.6,470.5 L1167.3,472.9 L1168.0,475.4 L1168.7,477.8 L1169.4,480.2 L1170.0,482.6 L1170.7,485.1 L1171.4,487.5 L1172.1,489.9 L1172.7,492.3 L1173.4,494.8 L1174.1,497.2 L1174.8,499.6 L1175.5,502.0 L1176.1,504.4 L1176.8,506.8 L1177.5,509.3 L1178.2,511.7 L1178.8,514.1 L1179.5,516.5 L1180.2,518.9 L1180.8,521.3 L1181.5,523.7 L1182.2,526.1 L1182.8,528.5 L1183.5,530.9 L1184.2,533.3 L1184.8,535.8 L1185.5,538.2 L1186.2,540.6 L1186.8,543.0 L1187.5,545.4 L1188.2,547.8 L1188.8,550.2 L1189.5,552.6 L1190.1,555.0 L1190.8,557.4 L1191.5,559.8 L1192.1,562.2 L1192.8,564.6 L1193.4,567.0 L1194.1,569.4 L1194.7,571.8 L1195.4,574.2 L1196.0,576.6 L1196.6,578.9 L1197.3,581.3 L1197.9,583.7 L1198.6,586.1 L1199.2,588.5 L1199.8,590.9 L1200.5,593.3 L1201.1,595.7 L1201.8,598.1 L1202.4,600.5 L1203.0,602.9 L1203.6,605.3 L1204.3,607.7 L1204.9,610.1 L1205.5,612.5 L1206.1,614.9 L1206.7,617.3 L1207.4,619.7 L1208.0,622.1 L1208.6,624.5 L1209.2,626.9 L1209.8,629.3 L1210.4,631.7 L1211.0,634.1 L1211.7,636.5 L1212.3,638.9 L1212.9,641.3 L1213.5,643.7 L1214.1,646.1 L1214.7,648.5 L1215.3,650.9 L1215.9,653.3 L1216.5,655.7 L1217.2,658.1 L1217.8,660.5 L1218.4,662.9 L1219.0,665.3 L1219.6,667.7 L1220.2,670.1 L1220.8,672.5 L1221.5,674.9 L1222.1,677.3 L1222.7,679.7 L1223.3,682.1 L1224.0,684.5 L1224.6,686.9 L1225.2,689.3 L1225.9,691.7 L1226.5,694.1 L1227.1,696.5 L1227.8,698.9 L1228.4,701.3 L1229.1,703.7 L1229.7,706.1 L1230.4,708.5 L1231.1,710.9 L1231.7,713.3 L1232.4,715.7 L1233.1,718.1 L1233.7,720.5 L1234.4,722.9 L1235.1,725.3 L1235.8,727.7 L1236.5,730.1 L1237.2,732.5 L1237.9,734.9 L1238.6,737.3 L1239.3,739.7 L1240.0,742.1 L1240.7,744.5 L1241.5,746.9 L1242.2,749.3 L1242.9,751.7 L1243.7,754.1 L1244.4,756.5 L1245.2,759.0 L1246.0,761.4 L1246.7,763.8 L1247.5,766.2 L1248.3,768.6 L1249.1,771.0 L1249.9,773.4 L1250.7,775.8 L1251.5,778.2 L1252.3,780.6 L1253.1,783.0 L1254.0,785.4 L1254.8,787.8 L1255.7,790.2 L1256.5,792.6 L1257.4,795.0 L1258.3,797.4 L1259.1,799.8 L1260.0,802.2 L1260.9,804.6 L1261.8,807.0 L1262.8,809.4 L1263.7,811.8 L1264.6,814.2 L1265.6,816.6 L1266.5,819.0 L1267.5,821.4 L1268.4,823.8 L1269.4,826.1 L1270.4,828.5 L1271.4,830.9 L1272.4,833.2 L1273.5,835.6 L1274.5,837.9 L1275.5,840.3 L1276.6,842.6 L1277.7,844.9 L1278.8,847.3 L1279.8,849.6 L1280.9,851.9 L1282.1,854.2 L1283.2,856.5 L1284.3,858.8 L1285.5,861.0 L1286.6,863.3 L1287.8,865.6 L1289.0,867.8 L1290.2,870.0 L1291.4,872.3 L1292.6,874.5 L1293.9,876.7 L1295.1,878.9 L1296.4,881.1 L1297.7,883.2 L1299.0,885.4 L1300.3,887.5 L1301.6,889.7 L1302.9,891.8 L1304.3,893.9 L1305.6,896.0 L1307.0,898.1 L1308.4,900.2 L1309.8,902.2 L1311.2,904.3 L1312.6,906.3 L1314.1,908.3 L1315.6,910.3 L1317.0,912.3 L1318.5,914.2 L1320.1,916.2 L1321.6,918.1 L1323.1,920.0 L1324.7,921.9 L1326.3,923.8 L1327.9,925.7 L1329.5,927.5 L1331.1,929.3 L1332.7,931.1 L1334.4,932.9 L1336.1,934.7 L1337.8,936.4 L1339.5,938.2 L1341.2,939.9 L1343.0,941.6 L1344.7,943.2 L1346.5,944.9 L1348.3,946.5 L1350.1,948.1 L1352.0,949.7 L1353.8,951.2 L1355.7,952.8 L1357.6,954.3 L1359.5,955.8 L1361.4,957.3 L1363.4,958.7 L1365.3,960.1 L1367.3,961.6 L1369.3,962.9 L1371.3,964.3 L1373.3,965.7 L1375.4,967.0 L1377.5,968.3 L1379.5,969.6 L1381.6,970.9 L1383.7,972.1 L1385.8,973.3 L1388.0,974.5 L1390.1,975.7 L1392.3,976.9 L1394.5,978.1 L1396.6,979.2 L1398.8,980.3 L1401.1,981.4 L1403.3,982.5 L1405.5,983.6 L1407.8,984.6 L1410.0,985.6 L1412.3,986.6 L1414.6,987.6 L1416.9,988.6 L1419.2,989.6 L1421.5,990.5 L1423.8,991.4 L1426.1,992.3 L1428.5,993.2 L1430.8,994.1 L1433.2,995.0 L1435.6,995.8 L1438.0,996.7 L1440.3,997.5 L1442.7,998.3 L1445.1,999.1 L1447.6,999.8 L1450.0,1000.6 L1452.4,1001.4 L1454.8,1002.1 L1457.3,1002.8 L1459.7,1003.5 L1462.2,1004.2 L1464.6,1004.9 L1467.1,1005.5 L1469.5,1006.2 L1472.0,1006.8 L1474.5,1007.4 L1477.0,1008.1 L1479.5,1008.7 L1481.9,1009.2 L1484.4,1009.8 L1486.9,1010.4 L1489.4,1010.9 L1491.9,1011.5 L1494.4,1012.0 L1496.9,1012.5 L1499.5,1013.0 L1502.0,1013.5 L1504.5,1014.0 L1507.0,1014.5 L1509.5,1015.0 L1512.0,1015.4 L1514.5,1015.9 L1517.0,1016.3 L1519.6,1016.7 L1522.1,1017.1 L1524.6,1017.5 L1527.1,1017.9 L1529.6,1018.3 L1532.1,1018.7 L1534.6,1019.1 L1537.1,1019.4 L1539.6,1019.8 L1542.2,1020.2 L1544.7,1020.5 L1547.2,1020.8 L1549.7,1021.2 L1552.1,1021.5 L1554.6,1021.8 L1557.1,1022.1 L1559.6,1022.4 L1562.1,1022.7 L1564.6,1023.0 L1567.1,1023.2 L1569.6,1023.5 L1572.1,1023.8 L1574.6,1024.0 L1577.0,1024.3 L1579.5,1024.5 L1582.0,1024.8 L1584.5,1025.0 L1587.0,1025.2 L1589.4,1025.4 L1591.9,1025.7 L1594.4,1025.9 L1596.9,1026.1 L1599.3,1026.3 L1601.8,1026.5 L1604.3,1026.7 L1606.8,1026.8 L1609.2,1027.0 L1611.7,1027.2 L1614.2,1027.4 L1616.6,1027.5 L1619.1,1027.7 L1621.6,1027.9 L1624.1,1028.0 L1626.5,1028.2 L1629.0,1028.3 L1631.5,1028.5 L1633.9,1028.6 L1636.4,1028.8 L1638.9,1028.9 L1641.4,1029.0 L1643.8,1029.2 L1646.3,1029.3 L1648.8,1029.4 L1651.2,1029.6 L1653.7,1029.7 L1656.2,1029.8 L1658.7,1029.9 L1661.1,1030.0 L1663.6,1030.1 L1666.1,1030.3 L1668.6,1030.4 L1671.0,1030.5 L1673.5,1030.6 L1676.0,1030.7 L1678.5,1030.8 L1681.0,1030.9 L1683.5,1031.0 L1685.9,1031.1 L1688.4,1031.2 L1690.9,1031.3 L1693.4,1031.4 L1695.9,1031.5 L1698.4,1031.7 L1700.9,1031.8 L1703.4,1031.9 L1705.9,1032.0 L1708.3,1032.1 L1710.8,1032.2 L1713.3,1032.3 L1715.8,1032.4 L1718.4,1032.5 L1720.9,1032.6 L1723.4,1032.7 L1725.9,1032.9 L1728.4,1033.0 L1730.9,1033.1 L1733.4,1033.2 L1735.9,1033.3 L1738.5,1033.5 L1741.0,1033.6 L1743.5,1033.7 L1746.0,1033.8 L1748.6,1034.0 L1751.1,1034.1 L1753.6,1034.3 L1756.2,1034.4 L1758.7,1034.5 L1761.2,1034.7 L1763.8,1034.9 L1766.3,1035.0 L1768.9,1035.2 L1771.4,1035.3 L1774.0,1035.5" stroke="#20009A"/>
<path d="M282.4,1028.5 L330.0,1026.5 L397.0,1026.0 L430.0,1026.0 L500.0,1026.5 L560.0,1026.2 L611.3,1025.3 L645.5,1023.6 L679.7,1021.0 L713.8,1019.3 L748.0,1015.9 L782.2,1013.3 L816.4,1012.5 L833.5,1010.8 L853.5,1010.3 L853.5,1043.5 L868.8,1041.0 L897.7,1034.2 L926.5,1029.4 L965.0,1026.5 L993.8,1024.6 L1032.3,1022.7 L1070.8,1022.1 L1128.5,1022.1 L1200.0,1022.1 L1297.8,1024.0 L1382.7,1025.2 L1480.0,1027.0 L1774.0,1027.0" stroke="#000" stroke-dasharray="8 8.2" stroke-width="6.6"/>
<path d="M281.6,993.1 L282.9,990.9 L284.2,988.8 L285.5,986.6 L286.8,984.4 L288.0,982.2 L289.3,980.1 L290.5,977.9 L291.7,975.7 L292.9,973.5 L294.1,971.3 L295.3,969.0 L296.5,966.8 L297.7,964.6 L298.8,962.4 L300.0,960.2 L301.1,957.9 L302.2,955.7 L303.3,953.4 L304.4,951.2 L305.5,949.0 L306.6,946.7 L307.7,944.4 L308.7,942.2 L309.8,939.9 L310.8,937.6 L311.9,935.4 L312.9,933.1 L313.9,930.8 L314.9,928.5 L315.9,926.2 L316.9,924.0 L317.9,921.7 L318.9,919.4 L319.8,917.1 L320.8,914.8 L321.8,912.5 L322.7,910.2 L323.6,907.8 L324.6,905.5 L325.5,903.2 L326.4,900.9 L327.3,898.6 L328.2,896.2 L329.2,893.9 L330.1,891.6 L330.9,889.3 L331.8,886.9 L332.7,884.6 L333.6,882.2 L334.5,879.9 L335.3,877.6 L336.2,875.2 L337.1,872.9 L337.9,870.5 L338.8,868.2 L339.6,865.8 L340.5,863.5 L341.3,861.1 L342.1,858.8 L343.0,856.4 L343.8,854.0 L344.6,851.7 L345.5,849.3 L346.3,846.9 L347.1,844.6 L347.9,842.2 L348.8,839.8 L349.6,837.5 L350.4,835.1 L351.2,832.7 L352.0,830.4 L352.8,828.0 L353.7,825.6 L354.5,823.2 L355.3,820.9 L356.1,818.5 L356.9,816.1 L357.7,813.8 L358.5,811.4 L359.4,809.0 L360.2,806.6 L361.0,804.3 L361.8,801.9 L362.6,799.5 L363.5,797.1 L364.3,794.8 L365.1,792.4 L365.9,790.0 L366.8,787.6 L367.6,785.3 L368.4,782.9 L369.2,780.5 L370.1,778.1 L370.9,775.8 L371.8,773.4 L372.6,771.0 L373.4,768.6 L374.3,766.3 L375.1,763.9 L376.0,761.5 L376.8,759.1 L377.6,756.8 L378.5,754.4 L379.3,752.0 L380.2,749.7 L381.1,747.3 L381.9,744.9 L382.8,742.6 L383.6,740.2 L384.5,737.8 L385.3,735.5 L386.2,733.1 L387.1,730.7 L387.9,728.4 L388.8,726.0 L389.7,723.6 L390.6,721.3 L391.4,718.9 L392.3,716.5 L393.2,714.2 L394.1,711.8 L394.9,709.5 L395.8,707.1 L396.7,704.7 L397.6,702.4 L398.5,700.0 L399.4,697.7 L400.3,695.3 L401.2,693.0 L402.1,690.6 L403.0,688.3 L403.9,685.9 L404.8,683.6 L405.7,681.2 L406.6,678.9 L407.5,676.5 L408.4,674.2 L409.3,671.8 L410.2,669.5 L411.2,667.1 L412.1,664.8 L413.0,662.5 L413.9,660.1 L414.9,657.8 L415.8,655.5 L416.7,653.1 L417.7,650.8 L418.6,648.5 L419.5,646.1 L420.5,643.8 L421.4,641.5 L422.4,639.1 L423.3,636.8 L424.3,634.5 L425.2,632.2 L426.2,629.8 L427.1,627.5 L428.1,625.2 L429.0,622.9 L430.0,620.6 L431.0,618.3 L431.9,615.9 L432.9,613.6 L433.9,611.3 L434.9,609.0 L435.8,606.7 L436.8,604.4 L437.8,602.1 L438.8,599.8 L439.8,597.5 L440.8,595.2 L441.8,592.9 L442.8,590.6 L443.8,588.3 L444.8,586.0 L445.8,583.7 L446.8,581.4 L447.8,579.2 L448.8,576.9 L449.8,574.6 L450.8,572.3 L451.8,570.0 L452.9,567.8 L453.9,565.5 L454.9,563.2 L455.9,560.9 L457.0,558.7 L458.0,556.4 L459.1,554.2 L460.1,551.9 L461.1,549.6 L462.2,547.4 L463.2,545.1 L464.3,542.9 L465.3,540.6 L466.4,538.4 L467.5,536.1 L468.5,533.9 L469.6,531.6 L470.7,529.4 L471.7,527.1 L472.8,524.9 L473.9,522.6 L475.0,520.4 L476.0,518.2 L477.1,515.9 L478.2,513.7 L479.3,511.4 L480.4,509.2 L481.5,507.0 L482.6,504.7 L483.7,502.5 L484.8,500.3 L485.9,498.0 L487.0,495.8 L488.1,493.6 L489.2,491.4 L490.3,489.1 L491.4,486.9 L492.6,484.7 L493.7,482.4 L494.8,480.2 L495.9,478.0 L497.1,475.8 L498.2,473.5 L499.3,471.3 L500.5,469.1 L501.6,466.8 L502.7,464.6 L503.9,462.4 L505.0,460.2 L506.2,457.9 L507.3,455.7 L508.5,453.5 L509.6,451.2 L510.8,449.0 L511.9,446.8 L513.1,444.5 L514.2,442.3 L515.4,440.1 L516.6,437.8 L517.7,435.6 L518.9,433.4 L520.1,431.1 L521.2,428.9 L522.4,426.7 L523.6,424.4 L524.8,422.2 L526.0,419.9 L527.1,417.7 L528.3,415.5 L529.5,413.2 L530.7,411.0 L531.9,408.7 L533.1,406.5 L534.3,404.3 L535.5,402.0 L536.7,399.8 L537.9,397.5 L539.2,395.3 L540.4,393.1 L541.6,390.8 L542.9,388.6 L544.1,386.4 L545.3,384.2 L546.6,381.9 L547.9,379.7 L549.1,377.5 L550.4,375.3 L551.7,373.1 L552.9,370.9 L554.2,368.7 L555.5,366.5 L556.8,364.3 L558.2,362.2 L559.5,360.0 L560.8,357.8 L562.1,355.7 L563.5,353.5 L564.8,351.4 L566.2,349.2 L567.6,347.1 L569.0,345.0 L570.4,342.8 L571.8,340.7 L573.2,338.6 L574.6,336.5 L576.0,334.5 L577.5,332.4 L578.9,330.3 L580.4,328.3 L581.9,326.2 L583.4,324.2 L584.9,322.1 L586.4,320.1 L587.9,318.1 L589.4,316.1 L591.0,314.1 L592.5,312.2 L594.1,310.2 L595.7,308.3 L597.3,306.3 L598.9,304.4 L600.5,302.5 L602.2,300.6 L603.8,298.7 L605.5,296.8 L607.2,295.0 L608.9,293.1 L610.6,291.3 L612.4,289.5 L614.1,287.7 L615.9,285.9 L617.6,284.1 L619.4,282.4 L621.3,280.6 L623.1,278.9 L624.9,277.2 L626.8,275.5 L628.7,273.8 L630.6,272.2 L632.5,270.6 L634.4,268.9 L636.3,267.3 L638.3,265.8 L640.3,264.2 L642.3,262.7 L644.3,261.2 L646.3,259.7 L648.3,258.2 L650.3,256.8 L652.4,255.4 L654.5,254.0 L656.6,252.7 L658.6,251.3 L660.8,250.0 L662.9,248.8 L665.0,247.5 L667.2,246.3 L669.3,245.1 L671.5,244.0 L673.7,242.9 L675.9,241.8 L678.1,240.8 L680.3,239.7 L682.5,238.8 L684.8,237.8 L687.0,236.9 L689.3,236.0 L691.5,235.2 L693.8,234.4 L696.1,233.7 L698.4,232.9 L700.7,232.3 L703.0,231.6 L705.3,231.0 L707.7,230.5 L710.0,230.0 L712.4,229.5 L714.7,229.1 L717.1,228.7 L719.5,228.4 L721.8,228.1 L724.2,227.8 L726.6,227.7 L729.0,227.5 L731.4,227.4 L733.9,227.4 L736.3,227.4 L738.7,227.4 L741.1,227.5 L743.6,227.7 L746.0,227.9 L748.5,228.2 L750.9,228.5 L753.4,228.9 L755.8,229.3 L758.3,229.7 L760.8,230.3 L763.2,230.8 L765.7,231.4 L768.2,232.1 L770.6,232.7 L773.1,233.5 L775.6,234.2 L778.0,235.0 L780.5,235.8 L782.9,236.7 L785.4,237.6 L787.8,238.5 L790.3,239.5 L792.7,240.4 L795.1,241.4 L797.6,242.5 L800.0,243.5 L802.4,244.6 L804.8,245.7 L807.2,246.8 L809.6,247.9 L811.9,249.0 L814.3,250.2 L816.6,251.4 L819.0,252.5 L821.3,253.7 L823.6,254.9 L825.9,256.1 L828.1,257.3 L830.4,258.5 L832.6,259.7 L834.9,260.9 L837.1,262.1 L839.3,263.3 L841.4,264.5 L843.6,265.7 L845.7,266.8 L847.8,268.0 L849.9,269.2 L852.0,270.3 L853.2,272.6 L854.5,274.8 L855.8,277.0 L857.1,279.2 L858.5,281.4 L859.9,283.5 L861.3,285.6 L862.7,287.7 L864.1,289.7 L865.6,291.8 L867.1,293.8 L868.6,295.8 L870.2,297.7 L871.7,299.7 L873.3,301.6 L874.9,303.5 L876.6,305.4 L878.2,307.2 L879.9,309.1 L881.6,310.9 L883.3,312.7 L885.0,314.5 L886.7,316.2 L888.5,318.0 L890.2,319.7 L892.0,321.4 L893.8,323.1 L895.7,324.8 L897.5,326.5 L899.3,328.1 L901.2,329.7 L903.1,331.4 L905.0,333.0 L906.9,334.6 L908.8,336.2 L910.7,337.7 L912.6,339.3 L914.6,340.9 L916.6,342.4 L918.5,343.9 L920.5,345.5 L922.5,347.0 L924.5,348.5 L926.5,350.0 L928.5,351.5 L930.5,352.9 L932.5,354.4 L934.5,355.9 L936.6,357.3 L938.6,358.8 L940.7,360.3 L942.7,361.7 L944.8,363.2 L946.8,364.6 L948.9,366.0 L950.9,367.5 L953.0,368.9 L955.1,370.3 L957.1,371.8 L959.2,373.2 L961.3,374.6 L963.3,376.1 L965.4,377.5 L967.5,378.9 L969.5,380.4 L971.6,381.8 L973.6,383.3 L975.7,384.7 L977.8,386.1 L979.8,387.6 L981.8,389.1 L983.9,390.5 L985.9,392.0 L988.0,393.5 L990.0,394.9 L992.0,396.4 L994.0,397.9 L996.0,399.4 L998.0,400.9 L1000.0,402.4 L1002.0,403.9 L1004.0,405.5 L1006.0,407.0 L1007.9,408.5 L1009.9,410.1 L1011.9,411.6 L1013.8,413.2 L1015.7,414.7 L1017.7,416.3 L1019.6,417.9 L1021.5,419.5 L1023.5,421.0 L1025.4,422.6 L1027.3,424.2 L1029.2,425.8 L1031.1,427.5 L1033.0,429.1 L1034.9,430.7 L1036.7,432.3 L1038.6,434.0 L1040.5,435.6 L1042.3,437.3 L1044.1,439.0 L1046.0,440.6 L1047.8,442.3 L1049.6,444.0 L1051.5,445.7 L1053.3,447.4 L1055.1,449.1 L1056.9,450.8 L1058.6,452.5 L1060.4,454.3 L1062.2,456.0 L1064.0,457.7 L1065.7,459.5 L1067.5,461.3 L1069.2,463.0 L1070.9,464.8 L1072.6,466.6 L1074.4,468.4 L1076.1,470.2 L1077.8,472.0 L1079.5,473.8 L1081.1,475.6 L1082.8,477.5 L1084.5,479.3 L1086.1,481.2 L1087.8,483.0 L1089.4,484.9 L1091.0,486.8 L1092.7,488.6 L1094.3,490.5 L1095.9,492.4 L1097.5,494.3 L1099.1,496.3 L1100.6,498.2 L1102.2,500.1 L1103.8,502.1 L1105.3,504.0 L1106.9,506.0 L1108.4,507.9 L1109.9,509.9 L1111.4,511.9 L1113.0,513.9 L1114.5,515.9 L1116.0,517.9 L1117.5,519.9 L1118.9,521.9 L1120.4,523.9 L1121.9,526.0 L1123.4,528.0 L1124.8,530.0 L1126.3,532.1 L1127.7,534.1 L1129.2,536.2 L1130.6,538.2 L1132.0,540.3 L1133.5,542.4 L1134.9,544.4 L1136.3,546.5 L1137.7,548.6 L1139.1,550.7 L1140.5,552.8 L1141.9,554.8 L1143.3,556.9 L1144.7,559.0 L1146.1,561.1 L1147.5,563.2 L1148.9,565.3 L1150.3,567.4 L1151.7,569.6 L1153.0,571.7 L1154.4,573.8 L1155.8,575.9 L1157.2,578.0 L1158.5,580.1 L1159.9,582.2 L1161.3,584.4 L1162.6,586.5 L1164.0,588.6 L1165.4,590.7 L1166.7,592.8 L1168.1,595.0 L1169.5,597.1 L1170.8,599.2 L1172.2,601.3 L1173.6,603.4 L1174.9,605.5 L1176.3,607.7 L1177.7,609.8 L1179.0,611.9 L1180.4,614.0 L1181.8,616.1 L1183.2,618.2 L1184.5,620.3 L1185.9,622.4 L1187.3,624.5 L1188.7,626.6 L1190.1,628.7 L1191.4,630.8 L1192.8,632.9 L1194.2,635.0 L1195.6,637.0 L1197.0,639.1 L1198.4,641.2 L1199.8,643.3 L1201.2,645.3 L1202.6,647.4 L1204.0,649.5 L1205.5,651.5 L1206.9,653.6 L1208.3,655.6 L1209.7,657.7 L1211.1,659.7 L1212.5,661.8 L1214.0,663.8 L1215.4,665.9 L1216.8,667.9 L1218.3,670.0 L1219.7,672.0 L1221.1,674.0 L1222.6,676.1 L1224.0,678.1 L1225.5,680.1 L1226.9,682.2 L1228.4,684.2 L1229.8,686.2 L1231.3,688.2 L1232.7,690.3 L1234.2,692.3 L1235.7,694.3 L1237.1,696.3 L1238.6,698.3 L1240.0,700.3 L1241.5,702.3 L1243.0,704.4 L1244.5,706.4 L1245.9,708.4 L1247.4,710.4 L1248.9,712.4 L1250.4,714.4 L1251.9,716.4 L1253.3,718.4 L1254.8,720.4 L1256.3,722.4 L1257.8,724.4 L1259.3,726.4 L1260.8,728.4 L1262.3,730.4 L1263.8,732.4 L1265.3,734.4 L1266.8,736.4 L1268.3,738.4 L1269.8,740.4 L1271.3,742.4 L1272.8,744.4 L1274.3,746.4 L1275.9,748.3 L1277.4,750.3 L1278.9,752.3 L1280.4,754.3 L1281.9,756.3 L1283.5,758.3 L1285.0,760.3 L1286.5,762.3 L1288.0,764.3 L1289.6,766.3 L1291.1,768.3 L1292.6,770.3 L1294.2,772.3 L1295.7,774.3 L1297.2,776.2 L1298.8,778.2 L1300.3,780.2 L1301.9,782.2 L1303.4,784.2 L1305.0,786.2 L1306.5,788.2 L1308.1,790.2 L1309.6,792.2 L1311.2,794.2 L1312.7,796.1 L1314.3,798.1 L1315.9,800.1 L1317.4,802.1 L1319.0,804.1 L1320.6,806.0 L1322.2,808.0 L1323.8,810.0 L1325.3,811.9 L1326.9,813.9 L1328.5,815.8 L1330.1,817.8 L1331.7,819.7 L1333.3,821.7 L1334.9,823.6 L1336.6,825.6 L1338.2,827.5 L1339.8,829.4 L1341.4,831.4 L1343.1,833.3 L1344.7,835.2 L1346.4,837.1 L1348.0,839.0 L1349.7,840.9 L1351.3,842.8 L1353.0,844.7 L1354.6,846.6 L1356.3,848.5 L1358.0,850.3 L1359.7,852.2 L1361.4,854.1 L1363.1,855.9 L1364.8,857.7 L1366.5,859.6 L1368.2,861.4 L1369.9,863.2 L1371.6,865.1 L1373.4,866.9 L1375.1,868.7 L1376.9,870.5 L1378.6,872.2 L1380.4,874.0 L1382.1,875.8 L1383.9,877.5 L1385.7,879.3 L1387.5,881.0 L1389.3,882.8 L1391.1,884.5 L1392.9,886.2 L1394.7,887.9 L1396.5,889.6 L1398.4,891.3 L1400.2,892.9 L1402.1,894.6 L1403.9,896.3 L1405.8,897.9 L1407.6,899.5 L1409.5,901.2 L1411.4,902.8 L1413.3,904.4 L1415.2,906.0 L1417.1,907.5 L1419.1,909.1 L1421.0,910.7 L1422.9,912.2 L1424.9,913.7 L1426.8,915.2 L1428.8,916.7 L1430.8,918.2 L1432.8,919.7 L1434.8,921.2 L1436.8,922.7 L1438.8,924.1 L1440.8,925.5 L1442.8,927.0 L1444.9,928.4 L1446.9,929.8 L1449.0,931.2 L1451.0,932.5 L1453.1,933.9 L1455.2,935.3 L1457.2,936.6 L1459.3,938.0 L1461.4,939.3 L1463.5,940.6 L1465.6,941.9 L1467.8,943.2 L1469.9,944.5 L1472.0,945.7 L1474.2,947.0 L1476.3,948.3 L1478.5,949.5 L1480.6,950.7 L1482.8,951.9 L1485.0,953.2 L1487.1,954.3 L1489.3,955.5 L1491.5,956.7 L1493.7,957.9 L1495.9,959.0 L1498.1,960.2 L1500.4,961.3 L1502.6,962.5 L1504.8,963.6 L1507.1,964.7 L1509.3,965.8 L1511.5,966.9 L1513.8,968.0 L1516.1,969.0 L1518.3,970.1 L1520.6,971.1 L1522.9,972.2 L1525.2,973.2 L1527.4,974.2 L1529.7,975.3 L1532.0,976.3 L1534.3,977.3 L1536.6,978.2 L1538.9,979.2 L1541.3,980.2 L1543.6,981.2 L1545.9,982.1 L1548.2,983.1 L1550.6,984.0 L1552.9,984.9 L1555.3,985.8 L1557.6,986.7 L1559.9,987.6 L1562.3,988.5 L1564.7,989.4 L1567.0,990.3 L1569.4,991.2 L1571.8,992.0 L1574.1,992.9 L1576.5,993.7 L1578.9,994.6 L1581.3,995.4 L1583.7,996.2 L1586.1,997.0 L1588.5,997.8 L1590.9,998.6 L1593.3,999.4 L1595.7,1000.2 L1598.1,1001.0 L1600.5,1001.7 L1602.9,1002.5 L1605.3,1003.2 L1607.7,1004.0 L1610.1,1004.7 L1612.6,1005.5 L1615.0,1006.2 L1617.4,1006.9 L1619.8,1007.6 L1622.3,1008.3 L1624.7,1009.0 L1627.1,1009.7 L1629.6,1010.4 L1632.0,1011.0 L1634.5,1011.7 L1636.9,1012.4 L1639.3,1013.0 L1641.8,1013.7 L1644.2,1014.3 L1646.7,1014.9 L1649.1,1015.6 L1651.6,1016.2 L1654.0,1016.8 L1656.5,1017.4 L1658.9,1018.0 L1661.4,1018.6 L1663.9,1019.2 L1666.3,1019.8 L1668.8,1020.4 L1671.2,1021.0 L1673.7,1021.5 L1676.1,1022.1 L1678.6,1022.6 L1681.1,1023.2 L1683.5,1023.7 L1686.0,1024.3 L1688.4,1024.8 L1690.9,1025.3 L1693.4,1025.9 L1695.8,1026.4 L1698.3,1026.9 L1700.7,1027.4 L1703.2,1027.9 L1705.7,1028.4 L1708.1,1028.9 L1710.6,1029.4 L1713.0,1029.9 L1715.5,1030.3 L1717.9,1030.8 L1720.4,1031.3 L1722.9,1031.7 L1725.3,1032.2 L1727.8,1032.7 L1730.2,1033.1 L1732.7,1033.6 L1735.1,1034.0 L1737.5,1034.4 L1740.0,1034.9 L1742.4,1035.3 L1744.9,1035.7 L1747.3,1036.1 L1749.7,1036.6 L1752.2,1037.0 L1754.6,1037.4 L1757.0,1037.8 L1759.5,1038.2 L1761.9,1038.6 L1764.3,1039.0 L1766.7,1039.4 L1769.2,1039.7 L1771.6,1040.1 L1774.0,1040.5" stroke="#000000"/>
</g>
<g stroke="#000" stroke-width="6.8" fill="none" stroke-linecap="butt">
<path d="M247.9,61.80 H1777.5"/>
<path d="M272.55,58.40 V1054.40"/>
<path d="M1774.3,58.40 L1775.6,1054.40"/>
<path d="M1775.8,1051.00 V1075.3"/>
<path d="M269.15,1051.00 H1778.8"/>
<path d="M247.9,1044.35 H272.55"/>
<path d="M247.9,880.30 H272.55"/>
<path d="M247.9,716.30 H272.55"/>
<path d="M247.9,552.30 H272.55"/>
<path d="M247.9,388.80 H272.55"/>
<path d="M247.9,225.30 H272.55"/>
<path d="M393.50,1051.00 V1075.3"/>
<path d="M623.90,1051.00 V1075.3"/>
<path d="M854.30,1051.00 V1075.3"/>
<path d="M1084.70,1051.00 V1075.3"/>
<path d="M1315.10,1051.00 V1075.3"/>
<path d="M1545.50,1051.00 V1075.3"/>
</g>
<g font-family="&quot;Liberation Sans&quot;, sans-serif" font-size="65.5" fill="#000" stroke="#000" stroke-width="0.45">
<text transform="translate(238.3,1067.75) scale(1,1.05)" text-anchor="end">0.0</text>
<text transform="translate(238.3,903.70) scale(1,1.05)" text-anchor="end">0.2</text>
<text transform="translate(238.3,739.70) scale(1,1.05)" text-anchor="end">0.4</text>
<text transform="translate(238.3,575.70) scale(1,1.05)" text-anchor="end">0.6</text>
<text transform="translate(238.3,412.20) scale(1,1.05)" text-anchor="end">0.8</text>
<text transform="translate(238.3,248.70) scale(1,1.05)" text-anchor="end">1.0</text>
<text transform="translate(238.3,85.20) scale(1,1.05)" text-anchor="end">1.2</text>
<text transform="translate(393.50,1147.3) scale(1,1.05)" text-anchor="middle">600</text>
<text transform="translate(623.90,1147.3) scale(1,1.05)" text-anchor="middle">700</text>
<text transform="translate(854.30,1147.3) scale(1,1.05)" text-anchor="middle">800</text>
<text transform="translate(1084.70,1147.3) scale(1,1.05)" text-anchor="middle">900</text>
<text transform="translate(1315.10,1147.3) scale(1,1.05)" text-anchor="middle">1000</text>
<text transform="translate(1545.50,1147.3) scale(1,1.05)" text-anchor="middle">1100</text>
<text transform="translate(1775.90,1147.3) scale(1,1.05)" text-anchor="middle">1200</text>
<text x="793.7" y="1222" textLength="474.2" lengthAdjust="spacing">wavelength (nm)</text>
<text transform="translate(87.3,886.9) rotate(-90)" x="0" y="0" textLength="671.7" lengthAdjust="spacing">absorption (normalized)</text>
</g>
<rect x="1416.2" y="88.3" width="337.2" height="629.4" fill="none" stroke="#000" stroke-width="1.8"/>
<g font-family="&quot;Liberation Sans&quot;, sans-serif" font-size="65.5" fill="#000" stroke="#000" stroke-width="0.45">
<path d="M1429,128.7 H1547.2" stroke="#000000" stroke-width="6.8"/>
<text x="1574" y="149.6">Cl</text>
<path d="M1429,202.2 H1547.2" stroke="#00D014" stroke-width="6.8"/>
<text x="1574" y="223.2">ClO<tspan font-size="44.3" dy="15.5">4</tspan></text>
<path d="M1429,287.0 H1547.2" stroke="#BE007D" stroke-width="6.8"/>
<text x="1574" y="308.5">NO<tspan font-size="44.3" dy="15.5">3</tspan></text>
<path d="M1429,372.0 H1547.2" stroke="#20009A" stroke-width="6.8"/>
<text x="1574" y="393.4">TPB</text>
<path d="M1429,446.0 H1547.2" stroke="#FF1E6A" stroke-width="6.8"/>
<text x="1574" y="467.5">PF<tspan font-size="44.3" dy="15.5">6</tspan></text>
<path d="M1429,531.0 H1547.2" stroke="#FF2028" stroke-width="6.8"/>
<text x="1574" y="551.9" textLength="139" lengthAdjust="spacing">TFSI</text>
<path d="M1429,604.4 H1547.2" stroke="#00FFFF" stroke-width="6.8"/>
<text x="1574" y="624.3">BARF</text>
<path d="M1429.3,678.5 H1547.2" stroke="#000" stroke-width="6.6" stroke-dasharray="8.2 8.2"/>
<text x="1574" y="697.5" textLength="161" lengthAdjust="spacing">Glass</text>
</g>
</svg>
</body></html>
